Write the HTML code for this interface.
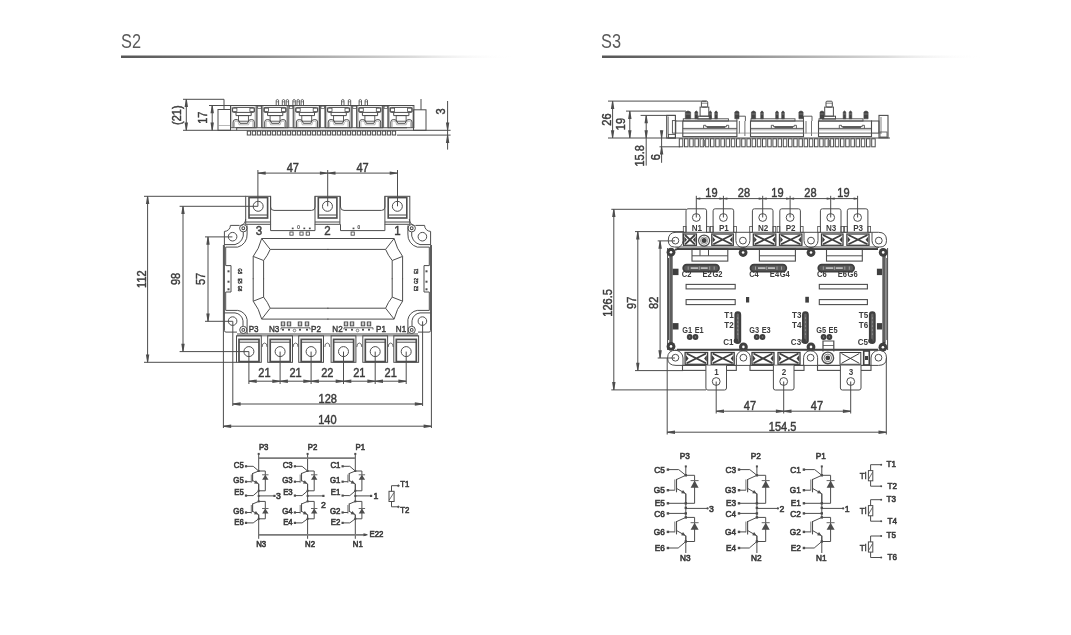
<!DOCTYPE html>
<html><head><meta charset="utf-8"><style>
html,body{margin:0;padding:0;background:#fff;}
body{width:1071px;height:635px;overflow:hidden;}
svg{display:block;font-family:"Liberation Sans",sans-serif;will-change:transform;}
</style></head><body>
<svg width="1071" height="635" viewBox="0 0 1071 635">
<defs><linearGradient id="g1" x1="0" x2="1" y1="0" y2="0"><stop offset="0" stop-color="#555"/><stop offset="0.35" stop-color="#8a8a8a"/><stop offset="0.75" stop-color="#dcdcdc"/><stop offset="1" stop-color="#fff" stop-opacity="0"/></linearGradient></defs>
<text x="121" y="47.6" font-size="19.5" text-anchor="start" fill="#5a5a5a" font-weight="normal" transform=" translate(121 47.6) scale(0.84 1) translate(-121 -47.6)">S2</text>
<rect x="121" y="55.5" width="392" height="2.5" fill="url(#g1)"/>
<text x="601" y="47.6" font-size="19.5" text-anchor="start" fill="#5a5a5a" font-weight="normal" transform=" translate(601 47.6) scale(0.84 1) translate(-601 -47.6)">S3</text>
<rect x="602" y="55.5" width="380" height="2.5" fill="url(#g1)"/>
<line x1="183" y1="99.3" x2="224" y2="99.3" stroke="#4d4d4d" stroke-width="1"/>
<line x1="224" y1="99.3" x2="224" y2="109.5" stroke="#4d4d4d" stroke-width="1"/>
<line x1="183" y1="130.3" x2="450.6" y2="130.3" stroke="#4d4d4d" stroke-width="1"/>
<line x1="186.3" y1="99.3" x2="186.3" y2="130.3" stroke="#4d4d4d" stroke-width="1"/>
<polygon points="185.85,99.3 184.6,107.1 188,107.1 186.75,99.3" fill="#4d4d4d"/>
<polygon points="185.85,130.3 184.6,122.5 188,122.5 186.75,130.3" fill="#4d4d4d"/>
<text x="181.3" y="115.2" font-size="12" text-anchor="middle" fill="#3c3c3c" font-weight="normal" transform="rotate(-90 181.3 115.2) translate(181.3 115.2) scale(0.92 1) translate(-181.3 -115.2)" stroke="#3c3c3c" stroke-width="0.45">(21)</text>
<line x1="209" y1="105.5" x2="231" y2="105.5" stroke="#4d4d4d" stroke-width="1"/>
<line x1="212.2" y1="105.5" x2="212.2" y2="130.3" stroke="#4d4d4d" stroke-width="1"/>
<polygon points="211.75,105.5 210.5,113.3 213.9,113.3 212.65,105.5" fill="#4d4d4d"/>
<polygon points="211.75,130.3 210.5,122.5 213.9,122.5 212.65,130.3" fill="#4d4d4d"/>
<text x="206.8" y="117.7" font-size="12" text-anchor="middle" fill="#3c3c3c" font-weight="normal" transform="rotate(-90 206.8 117.7) translate(206.8 117.7) scale(0.92 1) translate(-206.8 -117.7)" stroke="#3c3c3c" stroke-width="0.45">17</text>
<line x1="230.5" y1="105.5" x2="413.5" y2="105.5" stroke="#4d4d4d" stroke-width="1.2"/>
<rect x="218" y="109.5" width="12.5" height="20.8" stroke="#4d4d4d" stroke-width="1" fill="none"/>
<line x1="218" y1="125.5" x2="230.5" y2="125.5" stroke="#999" stroke-width="0.7"/>
<rect x="413.5" y="109.8" width="12.5" height="20.5" stroke="#4d4d4d" stroke-width="1" fill="none"/>
<line x1="421" y1="99" x2="421" y2="109.8" stroke="#4d4d4d" stroke-width="1"/>
<line x1="236.7" y1="127.7" x2="407" y2="127.7" stroke="#4d4d4d" stroke-width="1.1"/>
<line x1="236.7" y1="127.7" x2="236.7" y2="130.3" stroke="#4d4d4d" stroke-width="1"/>
<rect x="230.5" y="105.5" width="25.7" height="22.2" stroke="#4d4d4d" stroke-width="1" fill="none"/>
<line x1="231.7" y1="106.3" x2="231.7" y2="127.5" stroke="#888" stroke-width="0.6"/>
<line x1="255" y1="106.3" x2="255" y2="127.5" stroke="#888" stroke-width="0.6"/>
<rect x="232.4" y="107.4" width="22" height="5" stroke="#4d4d4d" stroke-width="1" fill="none" rx="1"/>
<rect x="232.7" y="108.2" width="4.2" height="3.3" stroke="#4d4d4d" stroke-width="0.8" fill="none"/>
<rect x="249.9" y="108.2" width="4.2" height="3.3" stroke="#4d4d4d" stroke-width="0.8" fill="none"/>
<path d="M236,112.4 V115.6 H251.2 V112.4" stroke="#4d4d4d" stroke-width="1" fill="none"/>
<rect x="238.5" y="115.6" width="9.9" height="5.6" stroke="#4d4d4d" stroke-width="0.9" fill="none"/>
<path d="M233.1,127.5 V122 Q233.1,119.5 236,119.5 Q239.2,119.5 239.5,122 L240,123.3 H247.5 L248,122 Q248.5,119.5 251.5,119.5 Q254.3,119.5 254.3,122 V127.5" stroke="#4d4d4d" stroke-width="1" fill="none"/>
<path d="M234.5,127.5 V122.5 Q234.5,121 236,121 Q238,121 238.3,122.5 L239,124.8 H248.5 L249.2,122.5 Q249.5,121 251.5,121 Q252.9,121 252.9,122.5 V127.5" stroke="#888" stroke-width="0.6" fill="none"/>
<rect x="262.1" y="105.5" width="25.7" height="22.2" stroke="#4d4d4d" stroke-width="1" fill="none"/>
<line x1="263.3" y1="106.3" x2="263.3" y2="127.5" stroke="#888" stroke-width="0.6"/>
<line x1="286.6" y1="106.3" x2="286.6" y2="127.5" stroke="#888" stroke-width="0.6"/>
<rect x="264" y="107.4" width="22" height="5" stroke="#4d4d4d" stroke-width="1" fill="none" rx="1"/>
<rect x="264.3" y="108.2" width="4.2" height="3.3" stroke="#4d4d4d" stroke-width="0.8" fill="none"/>
<rect x="281.5" y="108.2" width="4.2" height="3.3" stroke="#4d4d4d" stroke-width="0.8" fill="none"/>
<path d="M267.6,112.4 V115.6 H282.8 V112.4" stroke="#4d4d4d" stroke-width="1" fill="none"/>
<rect x="270.1" y="115.6" width="9.9" height="5.6" stroke="#4d4d4d" stroke-width="0.9" fill="none"/>
<path d="M264.7,127.5 V122 Q264.7,119.5 267.6,119.5 Q270.8,119.5 271.1,122 L271.6,123.3 H279.1 L279.6,122 Q280.1,119.5 283.1,119.5 Q285.9,119.5 285.9,122 V127.5" stroke="#4d4d4d" stroke-width="1" fill="none"/>
<path d="M266.1,127.5 V122.5 Q266.1,121 267.6,121 Q269.6,121 269.9,122.5 L270.6,124.8 H280.1 L280.8,122.5 Q281.1,121 283.1,121 Q284.5,121 284.5,122.5 V127.5" stroke="#888" stroke-width="0.6" fill="none"/>
<rect x="293.8" y="105.5" width="25.7" height="22.2" stroke="#4d4d4d" stroke-width="1" fill="none"/>
<line x1="295" y1="106.3" x2="295" y2="127.5" stroke="#888" stroke-width="0.6"/>
<line x1="318.3" y1="106.3" x2="318.3" y2="127.5" stroke="#888" stroke-width="0.6"/>
<rect x="295.7" y="107.4" width="22" height="5" stroke="#4d4d4d" stroke-width="1" fill="none" rx="1"/>
<rect x="296" y="108.2" width="4.2" height="3.3" stroke="#4d4d4d" stroke-width="0.8" fill="none"/>
<rect x="313.2" y="108.2" width="4.2" height="3.3" stroke="#4d4d4d" stroke-width="0.8" fill="none"/>
<path d="M299.3,112.4 V115.6 H314.5 V112.4" stroke="#4d4d4d" stroke-width="1" fill="none"/>
<rect x="301.8" y="115.6" width="9.9" height="5.6" stroke="#4d4d4d" stroke-width="0.9" fill="none"/>
<path d="M296.4,127.5 V122 Q296.4,119.5 299.3,119.5 Q302.5,119.5 302.8,122 L303.3,123.3 H310.8 L311.3,122 Q311.8,119.5 314.8,119.5 Q317.6,119.5 317.6,122 V127.5" stroke="#4d4d4d" stroke-width="1" fill="none"/>
<path d="M297.8,127.5 V122.5 Q297.8,121 299.3,121 Q301.3,121 301.6,122.5 L302.3,124.8 H311.8 L312.5,122.5 Q312.8,121 314.8,121 Q316.2,121 316.2,122.5 V127.5" stroke="#888" stroke-width="0.6" fill="none"/>
<rect x="325.6" y="105.5" width="25.7" height="22.2" stroke="#4d4d4d" stroke-width="1" fill="none"/>
<line x1="326.8" y1="106.3" x2="326.8" y2="127.5" stroke="#888" stroke-width="0.6"/>
<line x1="350.1" y1="106.3" x2="350.1" y2="127.5" stroke="#888" stroke-width="0.6"/>
<rect x="327.5" y="107.4" width="22" height="5" stroke="#4d4d4d" stroke-width="1" fill="none" rx="1"/>
<rect x="327.8" y="108.2" width="4.2" height="3.3" stroke="#4d4d4d" stroke-width="0.8" fill="none"/>
<rect x="345" y="108.2" width="4.2" height="3.3" stroke="#4d4d4d" stroke-width="0.8" fill="none"/>
<path d="M331.1,112.4 V115.6 H346.3 V112.4" stroke="#4d4d4d" stroke-width="1" fill="none"/>
<rect x="333.6" y="115.6" width="9.9" height="5.6" stroke="#4d4d4d" stroke-width="0.9" fill="none"/>
<path d="M328.2,127.5 V122 Q328.2,119.5 331.1,119.5 Q334.3,119.5 334.6,122 L335.1,123.3 H342.6 L343.1,122 Q343.6,119.5 346.6,119.5 Q349.4,119.5 349.4,122 V127.5" stroke="#4d4d4d" stroke-width="1" fill="none"/>
<path d="M329.6,127.5 V122.5 Q329.6,121 331.1,121 Q333.1,121 333.4,122.5 L334.1,124.8 H343.6 L344.3,122.5 Q344.6,121 346.6,121 Q348,121 348,122.5 V127.5" stroke="#888" stroke-width="0.6" fill="none"/>
<rect x="356.9" y="105.5" width="25.7" height="22.2" stroke="#4d4d4d" stroke-width="1" fill="none"/>
<line x1="358.1" y1="106.3" x2="358.1" y2="127.5" stroke="#888" stroke-width="0.6"/>
<line x1="381.4" y1="106.3" x2="381.4" y2="127.5" stroke="#888" stroke-width="0.6"/>
<rect x="358.8" y="107.4" width="22" height="5" stroke="#4d4d4d" stroke-width="1" fill="none" rx="1"/>
<rect x="359.1" y="108.2" width="4.2" height="3.3" stroke="#4d4d4d" stroke-width="0.8" fill="none"/>
<rect x="376.3" y="108.2" width="4.2" height="3.3" stroke="#4d4d4d" stroke-width="0.8" fill="none"/>
<path d="M362.4,112.4 V115.6 H377.6 V112.4" stroke="#4d4d4d" stroke-width="1" fill="none"/>
<rect x="364.9" y="115.6" width="9.9" height="5.6" stroke="#4d4d4d" stroke-width="0.9" fill="none"/>
<path d="M359.5,127.5 V122 Q359.5,119.5 362.4,119.5 Q365.6,119.5 365.9,122 L366.4,123.3 H373.9 L374.4,122 Q374.9,119.5 377.9,119.5 Q380.7,119.5 380.7,122 V127.5" stroke="#4d4d4d" stroke-width="1" fill="none"/>
<path d="M360.9,127.5 V122.5 Q360.9,121 362.4,121 Q364.4,121 364.7,122.5 L365.4,124.8 H374.9 L375.6,122.5 Q375.9,121 377.9,121 Q379.3,121 379.3,122.5 V127.5" stroke="#888" stroke-width="0.6" fill="none"/>
<rect x="388.2" y="105.5" width="25.7" height="22.2" stroke="#4d4d4d" stroke-width="1" fill="none"/>
<line x1="389.4" y1="106.3" x2="389.4" y2="127.5" stroke="#888" stroke-width="0.6"/>
<line x1="412.7" y1="106.3" x2="412.7" y2="127.5" stroke="#888" stroke-width="0.6"/>
<rect x="390.1" y="107.4" width="22" height="5" stroke="#4d4d4d" stroke-width="1" fill="none" rx="1"/>
<rect x="390.4" y="108.2" width="4.2" height="3.3" stroke="#4d4d4d" stroke-width="0.8" fill="none"/>
<rect x="407.6" y="108.2" width="4.2" height="3.3" stroke="#4d4d4d" stroke-width="0.8" fill="none"/>
<path d="M393.7,112.4 V115.6 H408.9 V112.4" stroke="#4d4d4d" stroke-width="1" fill="none"/>
<rect x="396.2" y="115.6" width="9.9" height="5.6" stroke="#4d4d4d" stroke-width="0.9" fill="none"/>
<path d="M390.8,127.5 V122 Q390.8,119.5 393.7,119.5 Q396.9,119.5 397.2,122 L397.7,123.3 H405.2 L405.7,122 Q406.2,119.5 409.2,119.5 Q412,119.5 412,122 V127.5" stroke="#4d4d4d" stroke-width="1" fill="none"/>
<path d="M392.2,127.5 V122.5 Q392.2,121 393.7,121 Q395.7,121 396,122.5 L396.7,124.8 H406.2 L406.9,122.5 Q407.2,121 409.2,121 Q410.6,121 410.6,122.5 V127.5" stroke="#888" stroke-width="0.6" fill="none"/>
<line x1="257.2" y1="105.5" x2="257.2" y2="127.7" stroke="#4d4d4d" stroke-width="0.8"/>
<line x1="261.5" y1="105.5" x2="261.5" y2="127.7" stroke="#4d4d4d" stroke-width="0.8"/>
<rect x="257.7" y="106.2" width="3.5" height="2.2" stroke="#4d4d4d" stroke-width="0.7" fill="none"/>
<line x1="288.8" y1="105.5" x2="288.8" y2="127.7" stroke="#4d4d4d" stroke-width="0.8"/>
<line x1="293.1" y1="105.5" x2="293.1" y2="127.7" stroke="#4d4d4d" stroke-width="0.8"/>
<rect x="289.3" y="106.2" width="3.5" height="2.2" stroke="#4d4d4d" stroke-width="0.7" fill="none"/>
<line x1="320.5" y1="105.5" x2="320.5" y2="127.7" stroke="#4d4d4d" stroke-width="0.8"/>
<line x1="324.8" y1="105.5" x2="324.8" y2="127.7" stroke="#4d4d4d" stroke-width="0.8"/>
<rect x="321" y="106.2" width="3.5" height="2.2" stroke="#4d4d4d" stroke-width="0.7" fill="none"/>
<line x1="352.3" y1="105.5" x2="352.3" y2="127.7" stroke="#4d4d4d" stroke-width="0.8"/>
<line x1="356.6" y1="105.5" x2="356.6" y2="127.7" stroke="#4d4d4d" stroke-width="0.8"/>
<rect x="352.8" y="106.2" width="3.5" height="2.2" stroke="#4d4d4d" stroke-width="0.7" fill="none"/>
<line x1="383.6" y1="105.5" x2="383.6" y2="127.7" stroke="#4d4d4d" stroke-width="0.8"/>
<line x1="387.9" y1="105.5" x2="387.9" y2="127.7" stroke="#4d4d4d" stroke-width="0.8"/>
<rect x="384.1" y="106.2" width="3.5" height="2.2" stroke="#4d4d4d" stroke-width="0.7" fill="none"/>
<path d="M276.2,105.5 V100.2 Q277.4,98.8 278.6,100.2 V105.5" stroke="#4d4d4d" stroke-width="0.9" fill="none"/>
<line x1="276.2" y1="101.8" x2="278.6" y2="101.8" stroke="#4d4d4d" stroke-width="0.6"/>
<path d="M282.3,105.5 V100.2 Q283.5,98.8 284.7,100.2 V105.5" stroke="#4d4d4d" stroke-width="0.9" fill="none"/>
<line x1="282.3" y1="101.8" x2="284.7" y2="101.8" stroke="#4d4d4d" stroke-width="0.6"/>
<path d="M286.2,105.5 V100.2 Q287.4,98.8 288.6,100.2 V105.5" stroke="#4d4d4d" stroke-width="0.9" fill="none"/>
<line x1="286.2" y1="101.8" x2="288.6" y2="101.8" stroke="#4d4d4d" stroke-width="0.6"/>
<path d="M292.9,105.5 V100.2 Q294.1,98.8 295.3,100.2 V105.5" stroke="#4d4d4d" stroke-width="0.9" fill="none"/>
<line x1="292.9" y1="101.8" x2="295.3" y2="101.8" stroke="#4d4d4d" stroke-width="0.6"/>
<path d="M297,105.5 V100.2 Q298.2,98.8 299.4,100.2 V105.5" stroke="#4d4d4d" stroke-width="0.9" fill="none"/>
<line x1="297" y1="101.8" x2="299.4" y2="101.8" stroke="#4d4d4d" stroke-width="0.6"/>
<path d="M301.1,105.5 V100.2 Q302.3,98.8 303.5,100.2 V105.5" stroke="#4d4d4d" stroke-width="0.9" fill="none"/>
<line x1="301.1" y1="101.8" x2="303.5" y2="101.8" stroke="#4d4d4d" stroke-width="0.6"/>
<path d="M341.6,105.5 V100.2 Q342.8,98.8 344,100.2 V105.5" stroke="#4d4d4d" stroke-width="0.9" fill="none"/>
<line x1="341.6" y1="101.8" x2="344" y2="101.8" stroke="#4d4d4d" stroke-width="0.6"/>
<path d="M348.3,105.5 V100.2 Q349.5,98.8 350.7,100.2 V105.5" stroke="#4d4d4d" stroke-width="0.9" fill="none"/>
<line x1="348.3" y1="101.8" x2="350.7" y2="101.8" stroke="#4d4d4d" stroke-width="0.6"/>
<path d="M359.1,105.5 V100.2 Q360.3,98.8 361.5,100.2 V105.5" stroke="#4d4d4d" stroke-width="0.9" fill="none"/>
<line x1="359.1" y1="101.8" x2="361.5" y2="101.8" stroke="#4d4d4d" stroke-width="0.6"/>
<path d="M365.1,105.5 V100.2 Q366.3,98.8 367.5,100.2 V105.5" stroke="#4d4d4d" stroke-width="0.9" fill="none"/>
<line x1="365.1" y1="101.8" x2="367.5" y2="101.8" stroke="#4d4d4d" stroke-width="0.6"/>
<rect x="247.3" y="131.1" width="3.3" height="3.9" stroke="#4d4d4d" stroke-width="1" fill="none"/>
<rect x="252.3" y="131.1" width="3.3" height="3.9" stroke="#4d4d4d" stroke-width="1" fill="none"/>
<rect x="257.3" y="131.1" width="3.3" height="3.9" stroke="#4d4d4d" stroke-width="1" fill="none"/>
<rect x="262.3" y="131.1" width="3.3" height="3.9" stroke="#4d4d4d" stroke-width="1" fill="none"/>
<rect x="267.3" y="131.1" width="3.3" height="3.9" stroke="#4d4d4d" stroke-width="1" fill="none"/>
<rect x="272.3" y="131.1" width="3.3" height="3.9" stroke="#4d4d4d" stroke-width="1" fill="none"/>
<rect x="277.3" y="131.1" width="3.3" height="3.9" stroke="#4d4d4d" stroke-width="1" fill="none"/>
<rect x="282.3" y="131.1" width="3.3" height="3.9" stroke="#4d4d4d" stroke-width="1" fill="none"/>
<rect x="287.3" y="131.1" width="3.3" height="3.9" stroke="#4d4d4d" stroke-width="1" fill="none"/>
<rect x="292.3" y="131.1" width="3.3" height="3.9" stroke="#4d4d4d" stroke-width="1" fill="none"/>
<rect x="297.3" y="131.1" width="3.3" height="3.9" stroke="#4d4d4d" stroke-width="1" fill="none"/>
<rect x="302.3" y="131.1" width="3.3" height="3.9" stroke="#4d4d4d" stroke-width="1" fill="none"/>
<rect x="307.3" y="131.1" width="3.3" height="3.9" stroke="#4d4d4d" stroke-width="1" fill="none"/>
<rect x="312.3" y="131.1" width="3.3" height="3.9" stroke="#4d4d4d" stroke-width="1" fill="none"/>
<rect x="317.3" y="131.1" width="3.3" height="3.9" stroke="#4d4d4d" stroke-width="1" fill="none"/>
<rect x="322.3" y="131.1" width="3.3" height="3.9" stroke="#4d4d4d" stroke-width="1" fill="none"/>
<rect x="327.3" y="131.1" width="3.3" height="3.9" stroke="#4d4d4d" stroke-width="1" fill="none"/>
<rect x="332.3" y="131.1" width="3.3" height="3.9" stroke="#4d4d4d" stroke-width="1" fill="none"/>
<rect x="337.3" y="131.1" width="3.3" height="3.9" stroke="#4d4d4d" stroke-width="1" fill="none"/>
<rect x="342.3" y="131.1" width="3.3" height="3.9" stroke="#4d4d4d" stroke-width="1" fill="none"/>
<rect x="347.3" y="131.1" width="3.3" height="3.9" stroke="#4d4d4d" stroke-width="1" fill="none"/>
<rect x="352.3" y="131.1" width="3.3" height="3.9" stroke="#4d4d4d" stroke-width="1" fill="none"/>
<rect x="357.3" y="131.1" width="3.3" height="3.9" stroke="#4d4d4d" stroke-width="1" fill="none"/>
<rect x="362.3" y="131.1" width="3.3" height="3.9" stroke="#4d4d4d" stroke-width="1" fill="none"/>
<rect x="367.3" y="131.1" width="3.3" height="3.9" stroke="#4d4d4d" stroke-width="1" fill="none"/>
<rect x="372.3" y="131.1" width="3.3" height="3.9" stroke="#4d4d4d" stroke-width="1" fill="none"/>
<rect x="377.3" y="131.1" width="3.3" height="3.9" stroke="#4d4d4d" stroke-width="1" fill="none"/>
<rect x="382.3" y="131.1" width="3.3" height="3.9" stroke="#4d4d4d" stroke-width="1" fill="none"/>
<rect x="387.3" y="131.1" width="3.3" height="3.9" stroke="#4d4d4d" stroke-width="1" fill="none"/>
<rect x="392.3" y="131.1" width="3.3" height="3.9" stroke="#4d4d4d" stroke-width="1" fill="none"/>
<line x1="397" y1="135.1" x2="450.6" y2="135.1" stroke="#4d4d4d" stroke-width="1"/>
<line x1="447.6" y1="101" x2="447.6" y2="149.6" stroke="#4d4d4d" stroke-width="1"/>
<polygon points="447.15,130.3 445.9,122.5 449.3,122.5 448.05,130.3" fill="#4d4d4d"/>
<polygon points="447.15,135.1 445.9,142.9 449.3,142.9 448.05,135.1" fill="#4d4d4d"/>
<text x="445.5" y="111.5" font-size="12" text-anchor="middle" fill="#3c3c3c" font-weight="normal" transform="rotate(-90 445.5 111.5) translate(445.5 111.5) scale(0.92 1) translate(-445.5 -111.5)" stroke="#3c3c3c" stroke-width="0.45">3</text>
<line x1="144" y1="196.3" x2="245.7" y2="196.3" stroke="#4d4d4d" stroke-width="1"/>
<line x1="144" y1="362.3" x2="236.6" y2="362.3" stroke="#4d4d4d" stroke-width="1"/>
<line x1="147.6" y1="196.3" x2="147.6" y2="362.3" stroke="#4d4d4d" stroke-width="1"/>
<polygon points="147.15,196.3 145.9,204.1 149.3,204.1 148.05,196.3" fill="#4d4d4d"/>
<polygon points="147.15,362.3 145.9,354.5 149.3,354.5 148.05,362.3" fill="#4d4d4d"/>
<text x="146.3" y="279.1" font-size="12" text-anchor="middle" fill="#3c3c3c" font-weight="normal" transform="rotate(-90 146.3 279.1) translate(146.3 279.1) scale(0.92 1) translate(-146.3 -279.1)" stroke="#3c3c3c" stroke-width="0.45">112</text>
<line x1="179.6" y1="206.3" x2="257.9" y2="206.3" stroke="#4d4d4d" stroke-width="1"/>
<line x1="179.6" y1="351.6" x2="248.9" y2="351.6" stroke="#4d4d4d" stroke-width="1"/>
<line x1="183" y1="206.3" x2="183" y2="351.6" stroke="#4d4d4d" stroke-width="1"/>
<polygon points="182.55,206.3 181.3,214.1 184.7,214.1 183.45,206.3" fill="#4d4d4d"/>
<polygon points="182.55,351.6 181.3,343.8 184.7,343.8 183.45,351.6" fill="#4d4d4d"/>
<text x="180.3" y="278.9" font-size="12" text-anchor="middle" fill="#3c3c3c" font-weight="normal" transform="rotate(-90 180.3 278.9) translate(180.3 278.9) scale(0.92 1) translate(-180.3 -278.9)" stroke="#3c3c3c" stroke-width="0.45">98</text>
<line x1="205" y1="236.9" x2="232.4" y2="236.9" stroke="#4d4d4d" stroke-width="1"/>
<line x1="205" y1="321.3" x2="232.8" y2="321.3" stroke="#4d4d4d" stroke-width="1"/>
<line x1="208" y1="236.9" x2="208" y2="321.3" stroke="#4d4d4d" stroke-width="1"/>
<polygon points="207.55,236.9 206.3,244.7 209.7,244.7 208.45,236.9" fill="#4d4d4d"/>
<polygon points="207.55,321.3 206.3,313.5 209.7,313.5 208.45,321.3" fill="#4d4d4d"/>
<text x="204.6" y="278.9" font-size="12" text-anchor="middle" fill="#3c3c3c" font-weight="normal" transform="rotate(-90 204.6 278.9) translate(204.6 278.9) scale(0.92 1) translate(-204.6 -278.9)" stroke="#3c3c3c" stroke-width="0.45">57</text>
<line x1="257.9" y1="170" x2="257.9" y2="206.3" stroke="#4d4d4d" stroke-width="1"/>
<line x1="327.7" y1="170" x2="327.7" y2="206.3" stroke="#4d4d4d" stroke-width="1"/>
<line x1="397.5" y1="170" x2="397.5" y2="206.3" stroke="#4d4d4d" stroke-width="1"/>
<line x1="257.9" y1="173.1" x2="327.7" y2="173.1" stroke="#4d4d4d" stroke-width="1"/>
<polygon points="257.9,172.65 265.7,171.4 265.7,174.8 257.9,173.55" fill="#4d4d4d"/>
<polygon points="327.7,172.65 319.9,171.4 319.9,174.8 327.7,173.55" fill="#4d4d4d"/>
<text x="292.8" y="171.6" font-size="12" text-anchor="middle" fill="#3c3c3c" font-weight="normal" transform=" translate(292.8 171.6) scale(0.92 1) translate(-292.8 -171.6)" stroke="#3c3c3c" stroke-width="0.45">47</text>
<line x1="327.7" y1="173.1" x2="397.5" y2="173.1" stroke="#4d4d4d" stroke-width="1"/>
<polygon points="327.7,172.65 335.5,171.4 335.5,174.8 327.7,173.55" fill="#4d4d4d"/>
<polygon points="397.5,172.65 389.7,171.4 389.7,174.8 397.5,173.55" fill="#4d4d4d"/>
<text x="362.6" y="171.6" font-size="12" text-anchor="middle" fill="#3c3c3c" font-weight="normal" transform=" translate(362.6 171.6) scale(0.92 1) translate(-362.6 -171.6)" stroke="#3c3c3c" stroke-width="0.45">47</text>
<rect x="245.7" y="196.3" width="24.9" height="28" stroke="#4d4d4d" stroke-width="1" fill="none"/>
<rect x="249" y="197.6" width="18.6" height="20.4" stroke="#4d4d4d" stroke-width="1.6" fill="none"/>
<line x1="249" y1="215" x2="267.6" y2="215" stroke="#4d4d4d" stroke-width="1"/>
<line x1="245.7" y1="222" x2="270.6" y2="222" stroke="#4d4d4d" stroke-width="1"/>
<circle cx="258.15" cy="206.3" r="5" stroke="#4d4d4d" stroke-width="1" fill="none"/>
<rect x="315" y="196.3" width="24.9" height="28" stroke="#4d4d4d" stroke-width="1" fill="none"/>
<rect x="318.3" y="197.6" width="18.6" height="20.4" stroke="#4d4d4d" stroke-width="1.6" fill="none"/>
<line x1="318.3" y1="215" x2="336.9" y2="215" stroke="#4d4d4d" stroke-width="1"/>
<line x1="315" y1="222" x2="339.9" y2="222" stroke="#4d4d4d" stroke-width="1"/>
<circle cx="327.45" cy="206.3" r="5" stroke="#4d4d4d" stroke-width="1" fill="none"/>
<rect x="384.9" y="196.3" width="24.9" height="28" stroke="#4d4d4d" stroke-width="1" fill="none"/>
<rect x="388.2" y="197.6" width="18.6" height="20.4" stroke="#4d4d4d" stroke-width="1.6" fill="none"/>
<line x1="388.2" y1="215" x2="406.8" y2="215" stroke="#4d4d4d" stroke-width="1"/>
<line x1="384.9" y1="222" x2="409.8" y2="222" stroke="#4d4d4d" stroke-width="1"/>
<circle cx="397.35" cy="206.3" r="5" stroke="#4d4d4d" stroke-width="1" fill="none"/>
<path d="M270.6,196.3 V207 Q270.6,210.4 274,210.4 H311.6 Q315,210.4 315,207 V196.3" stroke="#4d4d4d" stroke-width="1" fill="none"/>
<path d="M340.5,196.3 V207 Q340.5,210.4 344,210.4 H381.5 Q384.9,210.4 384.9,207 V196.3" stroke="#4d4d4d" stroke-width="1" fill="none"/>
<path d="M270.6,224.3 V230.6 H315 V224.3" stroke="#4d4d4d" stroke-width="1" fill="none"/>
<path d="M340.5,224.3 V230.6 H384.9 V224.3" stroke="#4d4d4d" stroke-width="1" fill="none"/>
<path d="M239.6,225.4 H230.4 A6,6 0 0 1 224.4,231.4 V245.2" stroke="#4d4d4d" stroke-width="1" fill="none"/>
<path d="M243.3,232 A11,11 0 0 1 235,244.6 H224.4" stroke="#4d4d4d" stroke-width="1" fill="none"/>
<path d="M247.1,225.4 V234 A12.5,12.5 0 0 1 237.7,247.1 H225.7 V265.6 H231 V292 H225.7 V310.4 H237.7 A11,11 0 0 1 247.1,319.5 V334" stroke="#4d4d4d" stroke-width="1" fill="none"/>
<path d="M224.4,312.9 H235 A9,9 0 0 1 243,320.8 V326.3" stroke="#4d4d4d" stroke-width="1" fill="none"/>
<path d="M224.4,245.2 V330.5 Q224.4,332.1 226,332.1 H237" stroke="#4d4d4d" stroke-width="1" fill="none"/>
<path d="M245.7,219 Q245.5,223.5 241.2,225.8" stroke="#4d4d4d" stroke-width="1" fill="none"/>
<circle cx="232.6" cy="236.7" r="4.3" stroke="#4d4d4d" stroke-width="1" fill="none"/>
<circle cx="232.6" cy="321.1" r="4.3" stroke="#4d4d4d" stroke-width="1" fill="none"/>
<circle cx="243.3" cy="228.2" r="3.7" stroke="#4d4d4d" stroke-width="1" fill="none"/>
<circle cx="243.3" cy="228.2" r="1.4" stroke="#4d4d4d" stroke-width="1.1" fill="none"/>
<circle cx="243.3" cy="329.9" r="3.6" stroke="#4d4d4d" stroke-width="1" fill="none"/>
<circle cx="243.3" cy="329.9" r="1.4" stroke="#4d4d4d" stroke-width="1.1" fill="none"/>
<g transform="translate(655,0) scale(-1,1)">
<path d="M239.6,225.4 H230.4 A6,6 0 0 1 224.4,231.4 V245.2" stroke="#4d4d4d" stroke-width="1" fill="none"/>
<path d="M243.3,232 A11,11 0 0 1 235,244.6 H224.4" stroke="#4d4d4d" stroke-width="1" fill="none"/>
<path d="M247.1,225.4 V234 A12.5,12.5 0 0 1 237.7,247.1 H225.7 V265.6 H231 V292 H225.7 V310.4 H237.7 A11,11 0 0 1 247.1,319.5 V334" stroke="#4d4d4d" stroke-width="1" fill="none"/>
<path d="M224.4,312.9 H235 A9,9 0 0 1 243,320.8 V326.3" stroke="#4d4d4d" stroke-width="1" fill="none"/>
<path d="M224.4,245.2 V330.5 Q224.4,332.1 226,332.1 H237" stroke="#4d4d4d" stroke-width="1" fill="none"/>
<path d="M245.7,219 Q245.5,223.5 241.2,225.8" stroke="#4d4d4d" stroke-width="1" fill="none"/>
<circle cx="232.6" cy="236.7" r="4.3" stroke="#4d4d4d" stroke-width="1" fill="none"/>
<circle cx="232.6" cy="321.1" r="4.3" stroke="#4d4d4d" stroke-width="1" fill="none"/>
<circle cx="243.3" cy="228.2" r="3.7" stroke="#4d4d4d" stroke-width="1" fill="none"/>
<circle cx="243.3" cy="228.2" r="1.4" stroke="#4d4d4d" stroke-width="1.1" fill="none"/>
<circle cx="243.3" cy="329.9" r="3.6" stroke="#4d4d4d" stroke-width="1" fill="none"/>
<circle cx="243.3" cy="329.9" r="1.4" stroke="#4d4d4d" stroke-width="1.1" fill="none"/>
</g>
<line x1="237" y1="334" x2="418" y2="334" stroke="#4d4d4d" stroke-width="1"/>
<line x1="237" y1="335.8" x2="418" y2="335.8" stroke="#4d4d4d" stroke-width="0.8"/>
<rect x="227.5" y="270.3" width="2" height="2" fill="#4d4d4d"/>
<rect x="425.5" y="270.3" width="2" height="2" fill="#4d4d4d"/>
<rect x="227.5" y="280.7" width="2" height="2" fill="#4d4d4d"/>
<rect x="425.5" y="280.7" width="2" height="2" fill="#4d4d4d"/>
<rect x="227.5" y="288.3" width="2" height="2" fill="#4d4d4d"/>
<rect x="425.5" y="288.3" width="2" height="2" fill="#4d4d4d"/>
<text x="237.5" y="271.3" font-size="4.5" text-anchor="middle" fill="#3c3c3c" font-weight="normal" transform="rotate(90 237.5 271.3) translate(237.5 271.3) scale(0.92 1) translate(-237.5 -271.3)" stroke="#3c3c3c" stroke-width="0.45">G5</text>
<text x="237.5" y="281" font-size="4.5" text-anchor="middle" fill="#3c3c3c" font-weight="normal" transform="rotate(90 237.5 281) translate(237.5 281) scale(0.92 1) translate(-237.5 -281)" stroke="#3c3c3c" stroke-width="0.45">E5</text>
<text x="237.5" y="288.5" font-size="4.5" text-anchor="middle" fill="#3c3c3c" font-weight="normal" transform="rotate(90 237.5 288.5) translate(237.5 288.5) scale(0.92 1) translate(-237.5 -288.5)" stroke="#3c3c3c" stroke-width="0.45">G6</text>
<text x="418" y="271.3" font-size="4.5" text-anchor="middle" fill="#3c3c3c" font-weight="normal" transform="rotate(-90 418 271.3) translate(418 271.3) scale(0.92 1) translate(-418 -271.3)" stroke="#3c3c3c" stroke-width="0.45">E1</text>
<text x="418" y="281" font-size="4.5" text-anchor="middle" fill="#3c3c3c" font-weight="normal" transform="rotate(-90 418 281) translate(418 281) scale(0.92 1) translate(-418 -281)" stroke="#3c3c3c" stroke-width="0.45">G2</text>
<text x="418" y="288.5" font-size="4.5" text-anchor="middle" fill="#3c3c3c" font-weight="normal" transform="rotate(-90 418 288.5) translate(418 288.5) scale(0.92 1) translate(-418 -288.5)" stroke="#3c3c3c" stroke-width="0.45">E2</text>
<g transform="">
<path d="M328.5,238.5 H261.7 Q259,249 253.2,256.4 V279.2" stroke="#4d4d4d" stroke-width="1" fill="none"/>
<path d="M328.5,249.4 H270.2 Q267.6,255.6 263.6,260.5 V279.2" stroke="#4d4d4d" stroke-width="1" fill="none"/>
<path d="M261.7,238.5 L270.2,249.4 M253.2,256.4 L263.6,260.5" stroke="#4d4d4d" stroke-width="1" fill="none"/>
</g>
<g transform="translate(655.8,0) scale(-1,1)">
<path d="M328.5,238.5 H261.7 Q259,249 253.2,256.4 V279.2" stroke="#4d4d4d" stroke-width="1" fill="none"/>
<path d="M328.5,249.4 H270.2 Q267.6,255.6 263.6,260.5 V279.2" stroke="#4d4d4d" stroke-width="1" fill="none"/>
<path d="M261.7,238.5 L270.2,249.4 M253.2,256.4 L263.6,260.5" stroke="#4d4d4d" stroke-width="1" fill="none"/>
</g>
<g transform="translate(0,557.6) scale(1,-1)">
<path d="M328.5,238.5 H261.7 Q259,249 253.2,256.4 V279.2" stroke="#4d4d4d" stroke-width="1" fill="none"/>
<path d="M328.5,249.4 H270.2 Q267.6,255.6 263.6,260.5 V279.2" stroke="#4d4d4d" stroke-width="1" fill="none"/>
<path d="M261.7,238.5 L270.2,249.4 M253.2,256.4 L263.6,260.5" stroke="#4d4d4d" stroke-width="1" fill="none"/>
</g>
<g transform="translate(655.8,557.6) scale(-1,-1)">
<path d="M328.5,238.5 H261.7 Q259,249 253.2,256.4 V279.2" stroke="#4d4d4d" stroke-width="1" fill="none"/>
<path d="M328.5,249.4 H270.2 Q267.6,255.6 263.6,260.5 V279.2" stroke="#4d4d4d" stroke-width="1" fill="none"/>
<path d="M261.7,238.5 L270.2,249.4 M253.2,256.4 L263.6,260.5" stroke="#4d4d4d" stroke-width="1" fill="none"/>
</g>
<text x="259" y="235.5" font-size="12.5" text-anchor="middle" fill="#3c3c3c" font-weight="normal" transform=" translate(259 235.5) scale(0.92 1) translate(-259 -235.5)" stroke="#3c3c3c" stroke-width="0.45">3</text>
<text x="327.5" y="235.5" font-size="12.5" text-anchor="middle" fill="#3c3c3c" font-weight="normal" transform=" translate(327.5 235.5) scale(0.92 1) translate(-327.5 -235.5)" stroke="#3c3c3c" stroke-width="0.45">2</text>
<text x="397.5" y="235.5" font-size="12.5" text-anchor="middle" fill="#3c3c3c" font-weight="normal" transform=" translate(397.5 235.5) scale(0.92 1) translate(-397.5 -235.5)" stroke="#3c3c3c" stroke-width="0.45">1</text>
<rect x="291.8" y="227.6" width="1.8" height="1.6" fill="#4d4d4d"/>
<rect x="303.4" y="227.6" width="1.8" height="1.6" fill="#4d4d4d"/>
<rect x="308.9" y="227.6" width="1.8" height="1.6" fill="#4d4d4d"/>
<rect x="352.6" y="227.6" width="1.8" height="1.6" fill="#4d4d4d"/>
<text x="298.6" y="229.3" font-size="5" text-anchor="middle" fill="#3c3c3c" font-weight="normal" transform=" translate(298.6 229.3) scale(0.92 1) translate(-298.6 -229.3)" stroke="#3c3c3c" stroke-width="0.2">0</text>
<text x="358.8" y="229.3" font-size="5" text-anchor="middle" fill="#3c3c3c" font-weight="normal" transform=" translate(358.8 229.3) scale(0.92 1) translate(-358.8 -229.3)" stroke="#3c3c3c" stroke-width="0.2">0</text>
<rect x="289.9" y="232" width="3.2" height="3.2" stroke="#4d4d4d" stroke-width="0.9" fill="none"/>
<rect x="299.9" y="232" width="3.2" height="3.2" stroke="#4d4d4d" stroke-width="0.9" fill="none"/>
<rect x="306.2" y="232" width="3.2" height="3.2" stroke="#4d4d4d" stroke-width="0.9" fill="none"/>
<rect x="351.1" y="232" width="3.2" height="3.2" stroke="#4d4d4d" stroke-width="0.9" fill="none"/>
<rect x="236.5" y="335.8" width="24.8" height="26.5" stroke="#4d4d4d" stroke-width="1" fill="none"/>
<rect x="239" y="339.4" width="20" height="22.2" stroke="#4d4d4d" stroke-width="1.7" fill="none"/>
<line x1="239" y1="342.2" x2="259" y2="342.2" stroke="#4d4d4d" stroke-width="1"/>
<circle cx="248.9" cy="351.6" r="5" stroke="#4d4d4d" stroke-width="1" fill="none"/>
<rect x="267.7" y="335.8" width="24.8" height="26.5" stroke="#4d4d4d" stroke-width="1" fill="none"/>
<rect x="270.2" y="339.4" width="20" height="22.2" stroke="#4d4d4d" stroke-width="1.7" fill="none"/>
<line x1="270.2" y1="342.2" x2="290.2" y2="342.2" stroke="#4d4d4d" stroke-width="1"/>
<circle cx="280.1" cy="351.6" r="5" stroke="#4d4d4d" stroke-width="1" fill="none"/>
<rect x="298.7" y="335.8" width="24.8" height="26.5" stroke="#4d4d4d" stroke-width="1" fill="none"/>
<rect x="301.2" y="339.4" width="20" height="22.2" stroke="#4d4d4d" stroke-width="1.7" fill="none"/>
<line x1="301.2" y1="342.2" x2="321.2" y2="342.2" stroke="#4d4d4d" stroke-width="1"/>
<circle cx="311.1" cy="351.6" r="5" stroke="#4d4d4d" stroke-width="1" fill="none"/>
<rect x="331.1" y="335.8" width="24.8" height="26.5" stroke="#4d4d4d" stroke-width="1" fill="none"/>
<rect x="333.6" y="339.4" width="20" height="22.2" stroke="#4d4d4d" stroke-width="1.7" fill="none"/>
<line x1="333.6" y1="342.2" x2="353.6" y2="342.2" stroke="#4d4d4d" stroke-width="1"/>
<circle cx="343.5" cy="351.6" r="5" stroke="#4d4d4d" stroke-width="1" fill="none"/>
<rect x="362.8" y="335.8" width="24.8" height="26.5" stroke="#4d4d4d" stroke-width="1" fill="none"/>
<rect x="365.3" y="339.4" width="20" height="22.2" stroke="#4d4d4d" stroke-width="1.7" fill="none"/>
<line x1="365.3" y1="342.2" x2="385.3" y2="342.2" stroke="#4d4d4d" stroke-width="1"/>
<circle cx="375.2" cy="351.6" r="5" stroke="#4d4d4d" stroke-width="1" fill="none"/>
<rect x="393.8" y="335.8" width="24.8" height="26.5" stroke="#4d4d4d" stroke-width="1" fill="none"/>
<rect x="396.3" y="339.4" width="20" height="22.2" stroke="#4d4d4d" stroke-width="1.7" fill="none"/>
<line x1="396.3" y1="342.2" x2="416.3" y2="342.2" stroke="#4d4d4d" stroke-width="1"/>
<circle cx="406.2" cy="351.6" r="5" stroke="#4d4d4d" stroke-width="1" fill="none"/>
<path d="M262.1,347 Q262.1,343 264.6,343 Q267.1,343 267.1,347" stroke="#4d4d4d" stroke-width="0.8" fill="none"/>
<path d="M293.1,347 Q293.1,343 295.6,343 Q298.1,343 298.1,347" stroke="#4d4d4d" stroke-width="0.8" fill="none"/>
<path d="M324.8,347 Q324.8,343 327.3,343 Q329.8,343 329.8,347" stroke="#4d4d4d" stroke-width="0.8" fill="none"/>
<path d="M356.8,347 Q356.8,343 359.3,343 Q361.8,343 361.8,347" stroke="#4d4d4d" stroke-width="0.8" fill="none"/>
<path d="M388.2,347 Q388.2,343 390.7,343 Q393.2,343 393.2,347" stroke="#4d4d4d" stroke-width="0.8" fill="none"/>
<text x="253.6" y="332" font-size="8.8" text-anchor="middle" fill="#3c3c3c" font-weight="normal" transform=" translate(253.6 332) scale(0.92 1) translate(-253.6 -332)" stroke="#3c3c3c" stroke-width="0.45">P3</text>
<text x="274.1" y="332" font-size="8.8" text-anchor="middle" fill="#3c3c3c" font-weight="normal" transform=" translate(274.1 332) scale(0.92 1) translate(-274.1 -332)" stroke="#3c3c3c" stroke-width="0.45">N3</text>
<text x="316" y="332" font-size="8.8" text-anchor="middle" fill="#3c3c3c" font-weight="normal" transform=" translate(316 332) scale(0.92 1) translate(-316 -332)" stroke="#3c3c3c" stroke-width="0.45">P2</text>
<text x="337.5" y="332" font-size="8.8" text-anchor="middle" fill="#3c3c3c" font-weight="normal" transform=" translate(337.5 332) scale(0.92 1) translate(-337.5 -332)" stroke="#3c3c3c" stroke-width="0.45">N2</text>
<text x="381" y="332" font-size="8.8" text-anchor="middle" fill="#3c3c3c" font-weight="normal" transform=" translate(381 332) scale(0.92 1) translate(-381 -332)" stroke="#3c3c3c" stroke-width="0.45">P1</text>
<text x="401" y="332" font-size="8.8" text-anchor="middle" fill="#3c3c3c" font-weight="normal" transform=" translate(401 332) scale(0.92 1) translate(-401 -332)" stroke="#3c3c3c" stroke-width="0.45">N1</text>
<rect x="282" y="328.8" width="2" height="1.8" fill="#4d4d4d"/>
<rect x="281.3" y="322" width="3.4" height="3.8" stroke="#4d4d4d" stroke-width="1" fill="none"/>
<line x1="281.3" y1="324" x2="284.7" y2="324" stroke="#4d4d4d" stroke-width="0.6"/>
<rect x="288" y="328.8" width="2" height="1.8" fill="#4d4d4d"/>
<rect x="287.3" y="322" width="3.4" height="3.8" stroke="#4d4d4d" stroke-width="1" fill="none"/>
<line x1="287.3" y1="324" x2="290.7" y2="324" stroke="#4d4d4d" stroke-width="0.6"/>
<rect x="299" y="328.8" width="2" height="1.8" fill="#4d4d4d"/>
<rect x="298.3" y="322" width="3.4" height="3.8" stroke="#4d4d4d" stroke-width="1" fill="none"/>
<line x1="298.3" y1="324" x2="301.7" y2="324" stroke="#4d4d4d" stroke-width="0.6"/>
<rect x="306" y="328.8" width="2" height="1.8" fill="#4d4d4d"/>
<rect x="305.3" y="322" width="3.4" height="3.8" stroke="#4d4d4d" stroke-width="1" fill="none"/>
<line x1="305.3" y1="324" x2="308.7" y2="324" stroke="#4d4d4d" stroke-width="0.6"/>
<rect x="345" y="328.8" width="2" height="1.8" fill="#4d4d4d"/>
<rect x="344.3" y="322" width="3.4" height="3.8" stroke="#4d4d4d" stroke-width="1" fill="none"/>
<line x1="344.3" y1="324" x2="347.7" y2="324" stroke="#4d4d4d" stroke-width="0.6"/>
<rect x="351" y="328.8" width="2" height="1.8" fill="#4d4d4d"/>
<rect x="350.3" y="322" width="3.4" height="3.8" stroke="#4d4d4d" stroke-width="1" fill="none"/>
<line x1="350.3" y1="324" x2="353.7" y2="324" stroke="#4d4d4d" stroke-width="0.6"/>
<rect x="362" y="328.8" width="2" height="1.8" fill="#4d4d4d"/>
<rect x="361.3" y="322" width="3.4" height="3.8" stroke="#4d4d4d" stroke-width="1" fill="none"/>
<line x1="361.3" y1="324" x2="364.7" y2="324" stroke="#4d4d4d" stroke-width="0.6"/>
<rect x="368" y="328.8" width="2" height="1.8" fill="#4d4d4d"/>
<rect x="367.3" y="322" width="3.4" height="3.8" stroke="#4d4d4d" stroke-width="1" fill="none"/>
<line x1="367.3" y1="324" x2="370.7" y2="324" stroke="#4d4d4d" stroke-width="0.6"/>
<path d="M281,329.5 V327.8 H310 V329.5" stroke="#4d4d4d" stroke-width="0.9" fill="none"/>
<path d="M344,329.5 V327.8 H373 V329.5" stroke="#4d4d4d" stroke-width="0.9" fill="none"/>
<circle cx="294.5" cy="330.5" r="1.3" stroke="#4d4d4d" stroke-width="0.7" fill="none"/>
<circle cx="357.5" cy="330.5" r="1.3" stroke="#4d4d4d" stroke-width="0.7" fill="none"/>
<line x1="248.9" y1="351.6" x2="248.9" y2="384" stroke="#4d4d4d" stroke-width="1"/>
<line x1="280.1" y1="351.6" x2="280.1" y2="384" stroke="#4d4d4d" stroke-width="1"/>
<line x1="311.1" y1="351.6" x2="311.1" y2="384" stroke="#4d4d4d" stroke-width="1"/>
<line x1="343.5" y1="351.6" x2="343.5" y2="384" stroke="#4d4d4d" stroke-width="1"/>
<line x1="375.2" y1="351.6" x2="375.2" y2="384" stroke="#4d4d4d" stroke-width="1"/>
<line x1="406.2" y1="351.6" x2="406.2" y2="384" stroke="#4d4d4d" stroke-width="1"/>
<line x1="248.9" y1="381.2" x2="280.1" y2="381.2" stroke="#4d4d4d" stroke-width="1"/>
<polygon points="248.9,380.75 256.7,379.5 256.7,382.9 248.9,381.65" fill="#4d4d4d"/>
<polygon points="280.1,380.75 272.3,379.5 272.3,382.9 280.1,381.65" fill="#4d4d4d"/>
<text x="264.5" y="376.8" font-size="12" text-anchor="middle" fill="#3c3c3c" font-weight="normal" transform=" translate(264.5 376.8) scale(0.92 1) translate(-264.5 -376.8)" stroke="#3c3c3c" stroke-width="0.45">21</text>
<line x1="280.1" y1="381.2" x2="311.1" y2="381.2" stroke="#4d4d4d" stroke-width="1"/>
<polygon points="280.1,380.75 287.9,379.5 287.9,382.9 280.1,381.65" fill="#4d4d4d"/>
<polygon points="311.1,380.75 303.3,379.5 303.3,382.9 311.1,381.65" fill="#4d4d4d"/>
<text x="295.6" y="376.8" font-size="12" text-anchor="middle" fill="#3c3c3c" font-weight="normal" transform=" translate(295.6 376.8) scale(0.92 1) translate(-295.6 -376.8)" stroke="#3c3c3c" stroke-width="0.45">21</text>
<line x1="311.1" y1="381.2" x2="343.5" y2="381.2" stroke="#4d4d4d" stroke-width="1"/>
<polygon points="311.1,380.75 318.9,379.5 318.9,382.9 311.1,381.65" fill="#4d4d4d"/>
<polygon points="343.5,380.75 335.7,379.5 335.7,382.9 343.5,381.65" fill="#4d4d4d"/>
<text x="327.3" y="376.8" font-size="12" text-anchor="middle" fill="#3c3c3c" font-weight="normal" transform=" translate(327.3 376.8) scale(0.92 1) translate(-327.3 -376.8)" stroke="#3c3c3c" stroke-width="0.45">22</text>
<line x1="343.5" y1="381.2" x2="375.2" y2="381.2" stroke="#4d4d4d" stroke-width="1"/>
<polygon points="343.5,380.75 351.3,379.5 351.3,382.9 343.5,381.65" fill="#4d4d4d"/>
<polygon points="375.2,380.75 367.4,379.5 367.4,382.9 375.2,381.65" fill="#4d4d4d"/>
<text x="359.35" y="376.8" font-size="12" text-anchor="middle" fill="#3c3c3c" font-weight="normal" transform=" translate(359.35 376.8) scale(0.92 1) translate(-359.35 -376.8)" stroke="#3c3c3c" stroke-width="0.45">21</text>
<line x1="375.2" y1="381.2" x2="406.2" y2="381.2" stroke="#4d4d4d" stroke-width="1"/>
<polygon points="375.2,380.75 383,379.5 383,382.9 375.2,381.65" fill="#4d4d4d"/>
<polygon points="406.2,380.75 398.4,379.5 398.4,382.9 406.2,381.65" fill="#4d4d4d"/>
<text x="390.7" y="376.8" font-size="12" text-anchor="middle" fill="#3c3c3c" font-weight="normal" transform=" translate(390.7 376.8) scale(0.92 1) translate(-390.7 -376.8)" stroke="#3c3c3c" stroke-width="0.45">21</text>
<line x1="232.8" y1="321.3" x2="232.8" y2="406" stroke="#4d4d4d" stroke-width="1"/>
<line x1="422.6" y1="321.3" x2="422.6" y2="406" stroke="#4d4d4d" stroke-width="1"/>
<line x1="232.8" y1="404" x2="422.6" y2="404" stroke="#4d4d4d" stroke-width="1"/>
<polygon points="232.8,403.55 240.6,402.3 240.6,405.7 232.8,404.45" fill="#4d4d4d"/>
<polygon points="422.6,403.55 414.8,402.3 414.8,405.7 422.6,404.45" fill="#4d4d4d"/>
<text x="327.7" y="402.6" font-size="12" text-anchor="middle" fill="#3c3c3c" font-weight="normal" transform=" translate(327.7 402.6) scale(0.92 1) translate(-327.7 -402.6)" stroke="#3c3c3c" stroke-width="0.45">128</text>
<line x1="223.4" y1="245" x2="223.4" y2="428" stroke="#4d4d4d" stroke-width="1"/>
<line x1="431.4" y1="245" x2="431.4" y2="428" stroke="#4d4d4d" stroke-width="1"/>
<line x1="223.4" y1="426.2" x2="431.4" y2="426.2" stroke="#4d4d4d" stroke-width="1"/>
<polygon points="223.4,425.75 231.2,424.5 231.2,427.9 223.4,426.65" fill="#4d4d4d"/>
<polygon points="431.4,425.75 423.6,424.5 423.6,427.9 431.4,426.65" fill="#4d4d4d"/>
<text x="327.4" y="423.8" font-size="12" text-anchor="middle" fill="#3c3c3c" font-weight="normal" transform=" translate(327.4 423.8) scale(0.92 1) translate(-327.4 -423.8)" stroke="#3c3c3c" stroke-width="0.45">140</text>
<g transform="translate(0,0)">
<line x1="258.7" y1="453.9" x2="258.7" y2="471" stroke="#4d4d4d" stroke-width="1"/>
<line x1="258.7" y1="483.9" x2="258.7" y2="501.4" stroke="#4d4d4d" stroke-width="1"/>
<line x1="258.7" y1="514.7" x2="258.7" y2="538.8" stroke="#4d4d4d" stroke-width="1"/>
<rect x="257.7" y="452.9" width="2" height="2" fill="#4d4d4d"/>
<text x="263.7" y="450.5" font-size="8.5" text-anchor="middle" fill="#3c3c3c" font-weight="normal" transform=" translate(263.7 450.5) scale(0.92 1) translate(-263.7 -450.5)" stroke="#3c3c3c" stroke-width="0.6">P3</text>
<text x="261.2" y="546.6" font-size="8.5" text-anchor="middle" fill="#3c3c3c" font-weight="normal" transform=" translate(261.2 546.6) scale(0.92 1) translate(-261.2 -546.6)" stroke="#3c3c3c" stroke-width="0.6">N3</text>
<rect x="244.9" y="465.2" width="2.2" height="2.2" fill="#4d4d4d"/>
<path d="M246,466.3 H253.2 L258.7,471" stroke="#4d4d4d" stroke-width="1" fill="none"/>
<text x="243.8" y="467.8" font-size="8.5" text-anchor="end" fill="#3c3c3c" font-weight="normal" transform=" translate(243.8 467.8) scale(0.92 1) translate(-243.8 -467.8)" stroke="#3c3c3c" stroke-width="0.6">C5</text>
<path d="M258.7,471 L252.6,473.5" stroke="#4d4d4d" stroke-width="1" fill="none"/>
<line x1="252.6" y1="472.9" x2="252.6" y2="481.4" stroke="#4d4d4d" stroke-width="1.1"/>
<line x1="251.3" y1="474.5" x2="251.3" y2="482.7" stroke="#777" stroke-width="1"/>
<path d="M252.6,480.5 L258.7,483.9 V490.8" stroke="#4d4d4d" stroke-width="1" fill="none"/>
<polygon points="258.44,483.75 254.02,483.47 255.87,480.15" fill="#4d4d4d"/>
<rect x="244.9" y="480.6" width="2.2" height="2.2" fill="#4d4d4d"/>
<line x1="246" y1="481.7" x2="251.3" y2="481.7" stroke="#4d4d4d" stroke-width="1"/>
<text x="243.8" y="483.2" font-size="8.5" text-anchor="end" fill="#3c3c3c" font-weight="normal" transform=" translate(243.8 483.2) scale(0.92 1) translate(-243.8 -483.2)" stroke="#3c3c3c" stroke-width="0.6">G5</text>
<rect x="244.9" y="494.5" width="2.2" height="2.2" fill="#4d4d4d"/>
<path d="M246,495.6 H253.2 L258.7,490.8" stroke="#4d4d4d" stroke-width="1" fill="none"/>
<text x="243.8" y="494.9" font-size="8.5" text-anchor="end" fill="#3c3c3c" font-weight="normal" transform=" translate(243.8 494.9) scale(0.92 1) translate(-243.8 -494.9)" stroke="#3c3c3c" stroke-width="0.6">E5</text>
<path d="M258.7,471 H265.3 V490.8 H258.7" stroke="#4d4d4d" stroke-width="1" fill="none"/>
<polygon points="265.3,474.8 262.1,479.8 268.5,479.8" fill="#4d4d4d"/>
<line x1="262.1" y1="474.8" x2="268.5" y2="474.8" stroke="#666" stroke-width="1"/>
<line x1="258.7" y1="495.9" x2="274.2" y2="495.9" stroke="#4d4d4d" stroke-width="1"/>
<rect x="273.4" y="494.8" width="2.2" height="2.2" fill="#4d4d4d"/>
<rect x="257.7" y="470" width="2" height="2" fill="#4d4d4d"/>
<rect x="257.7" y="489.8" width="2" height="2" fill="#4d4d4d"/>
<rect x="257.7" y="494.9" width="2" height="2" fill="#4d4d4d"/>
<path d="M258.7,501.4 L252.6,504" stroke="#4d4d4d" stroke-width="1" fill="none"/>
<line x1="252.6" y1="503.4" x2="252.6" y2="512" stroke="#4d4d4d" stroke-width="1.1"/>
<line x1="251.3" y1="505" x2="251.3" y2="513.5" stroke="#777" stroke-width="1"/>
<path d="M252.6,511.3 L258.7,514.7 V518.8" stroke="#4d4d4d" stroke-width="1" fill="none"/>
<polygon points="258.44,514.55 254.02,514.27 255.87,510.95" fill="#4d4d4d"/>
<rect x="257.7" y="500.4" width="2" height="2" fill="#4d4d4d"/>
<rect x="257.7" y="517.8" width="2" height="2" fill="#4d4d4d"/>
<rect x="244.9" y="511.4" width="2.2" height="2.2" fill="#4d4d4d"/>
<line x1="246" y1="512.5" x2="251.3" y2="512.5" stroke="#4d4d4d" stroke-width="1"/>
<text x="243.8" y="514.3" font-size="8.5" text-anchor="end" fill="#3c3c3c" font-weight="normal" transform=" translate(243.8 514.3) scale(0.92 1) translate(-243.8 -514.3)" stroke="#3c3c3c" stroke-width="0.6">G6</text>
<rect x="244.9" y="521.8" width="2.2" height="2.2" fill="#4d4d4d"/>
<path d="M246,522.9 H253.2 L258.7,518.8" stroke="#4d4d4d" stroke-width="1" fill="none"/>
<text x="243.8" y="525" font-size="8.5" text-anchor="end" fill="#3c3c3c" font-weight="normal" transform=" translate(243.8 525) scale(0.92 1) translate(-243.8 -525)" stroke="#3c3c3c" stroke-width="0.6">E6</text>
<path d="M258.7,501.4 H265.3 V518.8 H258.7" stroke="#4d4d4d" stroke-width="1" fill="none"/>
<polygon points="265.3,508.5 262.1,513.6 268.5,513.6" fill="#4d4d4d"/>
<line x1="262.1" y1="508.5" x2="268.5" y2="508.5" stroke="#666" stroke-width="1"/>
</g>
<g transform="translate(48.9,0)">
<line x1="258.7" y1="453.9" x2="258.7" y2="471" stroke="#4d4d4d" stroke-width="1"/>
<line x1="258.7" y1="483.9" x2="258.7" y2="501.4" stroke="#4d4d4d" stroke-width="1"/>
<line x1="258.7" y1="514.7" x2="258.7" y2="538.8" stroke="#4d4d4d" stroke-width="1"/>
<rect x="257.7" y="452.9" width="2" height="2" fill="#4d4d4d"/>
<text x="263.7" y="450.5" font-size="8.5" text-anchor="middle" fill="#3c3c3c" font-weight="normal" transform=" translate(263.7 450.5) scale(0.92 1) translate(-263.7 -450.5)" stroke="#3c3c3c" stroke-width="0.6">P2</text>
<text x="261.2" y="546.6" font-size="8.5" text-anchor="middle" fill="#3c3c3c" font-weight="normal" transform=" translate(261.2 546.6) scale(0.92 1) translate(-261.2 -546.6)" stroke="#3c3c3c" stroke-width="0.6">N2</text>
<rect x="244.9" y="465.2" width="2.2" height="2.2" fill="#4d4d4d"/>
<path d="M246,466.3 H253.2 L258.7,471" stroke="#4d4d4d" stroke-width="1" fill="none"/>
<text x="243.8" y="467.8" font-size="8.5" text-anchor="end" fill="#3c3c3c" font-weight="normal" transform=" translate(243.8 467.8) scale(0.92 1) translate(-243.8 -467.8)" stroke="#3c3c3c" stroke-width="0.6">C3</text>
<path d="M258.7,471 L252.6,473.5" stroke="#4d4d4d" stroke-width="1" fill="none"/>
<line x1="252.6" y1="472.9" x2="252.6" y2="481.4" stroke="#4d4d4d" stroke-width="1.1"/>
<line x1="251.3" y1="474.5" x2="251.3" y2="482.7" stroke="#777" stroke-width="1"/>
<path d="M252.6,480.5 L258.7,483.9 V490.8" stroke="#4d4d4d" stroke-width="1" fill="none"/>
<polygon points="258.44,483.75 254.02,483.47 255.87,480.15" fill="#4d4d4d"/>
<rect x="244.9" y="480.6" width="2.2" height="2.2" fill="#4d4d4d"/>
<line x1="246" y1="481.7" x2="251.3" y2="481.7" stroke="#4d4d4d" stroke-width="1"/>
<text x="243.8" y="483.2" font-size="8.5" text-anchor="end" fill="#3c3c3c" font-weight="normal" transform=" translate(243.8 483.2) scale(0.92 1) translate(-243.8 -483.2)" stroke="#3c3c3c" stroke-width="0.6">G3</text>
<rect x="244.9" y="494.5" width="2.2" height="2.2" fill="#4d4d4d"/>
<path d="M246,495.6 H253.2 L258.7,490.8" stroke="#4d4d4d" stroke-width="1" fill="none"/>
<text x="243.8" y="494.9" font-size="8.5" text-anchor="end" fill="#3c3c3c" font-weight="normal" transform=" translate(243.8 494.9) scale(0.92 1) translate(-243.8 -494.9)" stroke="#3c3c3c" stroke-width="0.6">E3</text>
<path d="M258.7,471 H265.3 V490.8 H258.7" stroke="#4d4d4d" stroke-width="1" fill="none"/>
<polygon points="265.3,474.8 262.1,479.8 268.5,479.8" fill="#4d4d4d"/>
<line x1="262.1" y1="474.8" x2="268.5" y2="474.8" stroke="#666" stroke-width="1"/>
<line x1="258.7" y1="495.9" x2="274.2" y2="495.9" stroke="#4d4d4d" stroke-width="1"/>
<rect x="273.4" y="494.8" width="2.2" height="2.2" fill="#4d4d4d"/>
<rect x="257.7" y="470" width="2" height="2" fill="#4d4d4d"/>
<rect x="257.7" y="489.8" width="2" height="2" fill="#4d4d4d"/>
<rect x="257.7" y="494.9" width="2" height="2" fill="#4d4d4d"/>
<path d="M258.7,501.4 L252.6,504" stroke="#4d4d4d" stroke-width="1" fill="none"/>
<line x1="252.6" y1="503.4" x2="252.6" y2="512" stroke="#4d4d4d" stroke-width="1.1"/>
<line x1="251.3" y1="505" x2="251.3" y2="513.5" stroke="#777" stroke-width="1"/>
<path d="M252.6,511.3 L258.7,514.7 V518.8" stroke="#4d4d4d" stroke-width="1" fill="none"/>
<polygon points="258.44,514.55 254.02,514.27 255.87,510.95" fill="#4d4d4d"/>
<rect x="257.7" y="500.4" width="2" height="2" fill="#4d4d4d"/>
<rect x="257.7" y="517.8" width="2" height="2" fill="#4d4d4d"/>
<rect x="244.9" y="511.4" width="2.2" height="2.2" fill="#4d4d4d"/>
<line x1="246" y1="512.5" x2="251.3" y2="512.5" stroke="#4d4d4d" stroke-width="1"/>
<text x="243.8" y="514.3" font-size="8.5" text-anchor="end" fill="#3c3c3c" font-weight="normal" transform=" translate(243.8 514.3) scale(0.92 1) translate(-243.8 -514.3)" stroke="#3c3c3c" stroke-width="0.6">G4</text>
<rect x="244.9" y="521.8" width="2.2" height="2.2" fill="#4d4d4d"/>
<path d="M246,522.9 H253.2 L258.7,518.8" stroke="#4d4d4d" stroke-width="1" fill="none"/>
<text x="243.8" y="525" font-size="8.5" text-anchor="end" fill="#3c3c3c" font-weight="normal" transform=" translate(243.8 525) scale(0.92 1) translate(-243.8 -525)" stroke="#3c3c3c" stroke-width="0.6">E4</text>
<path d="M258.7,501.4 H265.3 V518.8 H258.7" stroke="#4d4d4d" stroke-width="1" fill="none"/>
<polygon points="265.3,508.5 262.1,513.6 268.5,513.6" fill="#4d4d4d"/>
<line x1="262.1" y1="508.5" x2="268.5" y2="508.5" stroke="#666" stroke-width="1"/>
</g>
<g transform="translate(96.6,0)">
<line x1="258.7" y1="453.9" x2="258.7" y2="471" stroke="#4d4d4d" stroke-width="1"/>
<line x1="258.7" y1="483.9" x2="258.7" y2="501.4" stroke="#4d4d4d" stroke-width="1"/>
<line x1="258.7" y1="514.7" x2="258.7" y2="538.8" stroke="#4d4d4d" stroke-width="1"/>
<rect x="257.7" y="452.9" width="2" height="2" fill="#4d4d4d"/>
<text x="263.7" y="450.5" font-size="8.5" text-anchor="middle" fill="#3c3c3c" font-weight="normal" transform=" translate(263.7 450.5) scale(0.92 1) translate(-263.7 -450.5)" stroke="#3c3c3c" stroke-width="0.6">P1</text>
<text x="261.2" y="546.6" font-size="8.5" text-anchor="middle" fill="#3c3c3c" font-weight="normal" transform=" translate(261.2 546.6) scale(0.92 1) translate(-261.2 -546.6)" stroke="#3c3c3c" stroke-width="0.6">N1</text>
<rect x="244.9" y="465.2" width="2.2" height="2.2" fill="#4d4d4d"/>
<path d="M246,466.3 H253.2 L258.7,471" stroke="#4d4d4d" stroke-width="1" fill="none"/>
<text x="243.8" y="467.8" font-size="8.5" text-anchor="end" fill="#3c3c3c" font-weight="normal" transform=" translate(243.8 467.8) scale(0.92 1) translate(-243.8 -467.8)" stroke="#3c3c3c" stroke-width="0.6">C1</text>
<path d="M258.7,471 L252.6,473.5" stroke="#4d4d4d" stroke-width="1" fill="none"/>
<line x1="252.6" y1="472.9" x2="252.6" y2="481.4" stroke="#4d4d4d" stroke-width="1.1"/>
<line x1="251.3" y1="474.5" x2="251.3" y2="482.7" stroke="#777" stroke-width="1"/>
<path d="M252.6,480.5 L258.7,483.9 V490.8" stroke="#4d4d4d" stroke-width="1" fill="none"/>
<polygon points="258.44,483.75 254.02,483.47 255.87,480.15" fill="#4d4d4d"/>
<rect x="244.9" y="480.6" width="2.2" height="2.2" fill="#4d4d4d"/>
<line x1="246" y1="481.7" x2="251.3" y2="481.7" stroke="#4d4d4d" stroke-width="1"/>
<text x="243.8" y="483.2" font-size="8.5" text-anchor="end" fill="#3c3c3c" font-weight="normal" transform=" translate(243.8 483.2) scale(0.92 1) translate(-243.8 -483.2)" stroke="#3c3c3c" stroke-width="0.6">G1</text>
<rect x="244.9" y="494.5" width="2.2" height="2.2" fill="#4d4d4d"/>
<path d="M246,495.6 H253.2 L258.7,490.8" stroke="#4d4d4d" stroke-width="1" fill="none"/>
<text x="243.8" y="494.9" font-size="8.5" text-anchor="end" fill="#3c3c3c" font-weight="normal" transform=" translate(243.8 494.9) scale(0.92 1) translate(-243.8 -494.9)" stroke="#3c3c3c" stroke-width="0.6">E1</text>
<path d="M258.7,471 H265.3 V490.8 H258.7" stroke="#4d4d4d" stroke-width="1" fill="none"/>
<polygon points="265.3,474.8 262.1,479.8 268.5,479.8" fill="#4d4d4d"/>
<line x1="262.1" y1="474.8" x2="268.5" y2="474.8" stroke="#666" stroke-width="1"/>
<line x1="258.7" y1="495.9" x2="274.2" y2="495.9" stroke="#4d4d4d" stroke-width="1"/>
<rect x="273.4" y="494.8" width="2.2" height="2.2" fill="#4d4d4d"/>
<rect x="257.7" y="470" width="2" height="2" fill="#4d4d4d"/>
<rect x="257.7" y="489.8" width="2" height="2" fill="#4d4d4d"/>
<rect x="257.7" y="494.9" width="2" height="2" fill="#4d4d4d"/>
<path d="M258.7,501.4 L252.6,504" stroke="#4d4d4d" stroke-width="1" fill="none"/>
<line x1="252.6" y1="503.4" x2="252.6" y2="512" stroke="#4d4d4d" stroke-width="1.1"/>
<line x1="251.3" y1="505" x2="251.3" y2="513.5" stroke="#777" stroke-width="1"/>
<path d="M252.6,511.3 L258.7,514.7 V518.8" stroke="#4d4d4d" stroke-width="1" fill="none"/>
<polygon points="258.44,514.55 254.02,514.27 255.87,510.95" fill="#4d4d4d"/>
<rect x="257.7" y="500.4" width="2" height="2" fill="#4d4d4d"/>
<rect x="257.7" y="517.8" width="2" height="2" fill="#4d4d4d"/>
<rect x="244.9" y="511.4" width="2.2" height="2.2" fill="#4d4d4d"/>
<line x1="246" y1="512.5" x2="251.3" y2="512.5" stroke="#4d4d4d" stroke-width="1"/>
<text x="243.8" y="514.3" font-size="8.5" text-anchor="end" fill="#3c3c3c" font-weight="normal" transform=" translate(243.8 514.3) scale(0.92 1) translate(-243.8 -514.3)" stroke="#3c3c3c" stroke-width="0.6">G2</text>
<rect x="244.9" y="521.8" width="2.2" height="2.2" fill="#4d4d4d"/>
<path d="M246,522.9 H253.2 L258.7,518.8" stroke="#4d4d4d" stroke-width="1" fill="none"/>
<text x="243.8" y="525" font-size="8.5" text-anchor="end" fill="#3c3c3c" font-weight="normal" transform=" translate(243.8 525) scale(0.92 1) translate(-243.8 -525)" stroke="#3c3c3c" stroke-width="0.6">E2</text>
<path d="M258.7,501.4 H265.3 V518.8 H258.7" stroke="#4d4d4d" stroke-width="1" fill="none"/>
<polygon points="265.3,508.5 262.1,513.6 268.5,513.6" fill="#4d4d4d"/>
<line x1="262.1" y1="508.5" x2="268.5" y2="508.5" stroke="#666" stroke-width="1"/>
</g>
<line x1="258.7" y1="458.1" x2="355.3" y2="458.1" stroke="#7a7a7a" stroke-width="1.7"/>
<line x1="258.7" y1="534.8" x2="366" y2="534.8" stroke="#7a7a7a" stroke-width="1.7"/>
<polygon points="367.5,534.35 363.5,533.3 363.5,536.3 367.5,535.25" fill="#4d4d4d"/>
<text x="369.5" y="537.2" font-size="8.5" text-anchor="start" fill="#3c3c3c" font-weight="normal" transform=" translate(369.5 537.2) scale(0.92 1) translate(-369.5 -537.2)" stroke="#3c3c3c" stroke-width="0.6">E22</text>
<text x="276" y="499" font-size="9.5" text-anchor="start" fill="#3c3c3c" font-weight="normal" transform=" translate(276 499) scale(0.92 1) translate(-276 -499)" stroke="#3c3c3c" stroke-width="0.6">3</text>
<text x="321" y="508.5" font-size="9.5" text-anchor="start" fill="#3c3c3c" font-weight="normal" transform=" translate(321 508.5) scale(0.92 1) translate(-321 -508.5)" stroke="#3c3c3c" stroke-width="0.6">2</text>
<text x="373.5" y="499.2" font-size="9.5" text-anchor="start" fill="#3c3c3c" font-weight="normal" transform=" translate(373.5 499.2) scale(0.92 1) translate(-373.5 -499.2)" stroke="#3c3c3c" stroke-width="0.6">1</text>
<rect x="389" y="491.3" width="5.1" height="10.2" stroke="#4d4d4d" stroke-width="1" fill="none"/>
<line x1="389.2" y1="500" x2="394" y2="492.5" stroke="#4d4d4d" stroke-width="0.8"/>
<path d="M391.5,491.3 V485.7 H398.4" stroke="#4d4d4d" stroke-width="1" fill="none"/>
<path d="M391.5,501.5 V506.8 H398.4" stroke="#4d4d4d" stroke-width="1" fill="none"/>
<circle cx="398.4" cy="485.7" r="0.9" stroke="#4d4d4d" stroke-width="0.6" fill="#4d4d4d"/>
<circle cx="398.4" cy="506.8" r="0.9" stroke="#4d4d4d" stroke-width="0.6" fill="#4d4d4d"/>
<text x="400.3" y="487.2" font-size="8.5" text-anchor="start" fill="#3c3c3c" font-weight="normal" transform=" translate(400.3 487.2) scale(0.92 1) translate(-400.3 -487.2)" stroke="#3c3c3c" stroke-width="0.6">T1</text>
<text x="400.3" y="512.6" font-size="8.5" text-anchor="start" fill="#3c3c3c" font-weight="normal" transform=" translate(400.3 512.6) scale(0.92 1) translate(-400.3 -512.6)" stroke="#3c3c3c" stroke-width="0.6">T2</text>
<line x1="608" y1="101.1" x2="706.6" y2="101.1" stroke="#4d4d4d" stroke-width="1"/>
<line x1="608" y1="138" x2="890" y2="138" stroke="#4d4d4d" stroke-width="1"/>
<line x1="612.6" y1="101.1" x2="612.6" y2="138" stroke="#4d4d4d" stroke-width="1"/>
<polygon points="612.15,101.1 610.9,108.9 614.3,108.9 613.05,101.1" fill="#4d4d4d"/>
<polygon points="612.15,138 610.9,130.2 614.3,130.2 613.05,138" fill="#4d4d4d"/>
<text x="610.8" y="119.5" font-size="12" text-anchor="middle" fill="#3c3c3c" font-weight="normal" transform="rotate(-90 610.8 119.5) translate(610.8 119.5) scale(0.92 1) translate(-610.8 -119.5)" stroke="#3c3c3c" stroke-width="0.45">26</text>
<line x1="626" y1="111.1" x2="686" y2="111.1" stroke="#4d4d4d" stroke-width="1"/>
<line x1="629.8" y1="111.1" x2="629.8" y2="138" stroke="#4d4d4d" stroke-width="1"/>
<polygon points="629.35,111.1 628.1,118.9 631.5,118.9 630.25,111.1" fill="#4d4d4d"/>
<polygon points="629.35,138 628.1,130.2 631.5,130.2 630.25,138" fill="#4d4d4d"/>
<text x="624.8" y="124" font-size="12" text-anchor="middle" fill="#3c3c3c" font-weight="normal" transform="rotate(-90 624.8 124) translate(624.8 124) scale(0.92 1) translate(-624.8 -124)" stroke="#3c3c3c" stroke-width="0.45">19</text>
<line x1="640.6" y1="115.4" x2="675.4" y2="115.4" stroke="#4d4d4d" stroke-width="1"/>
<line x1="646.2" y1="115.4" x2="646.2" y2="165.6" stroke="#4d4d4d" stroke-width="1"/>
<polygon points="645.75,115.4 644.5,123.2 647.9,123.2 646.65,115.4" fill="#4d4d4d"/>
<polygon points="645.75,138 644.5,130.2 647.9,130.2 646.65,138" fill="#4d4d4d"/>
<text x="644.3" y="155.8" font-size="12" text-anchor="middle" fill="#3c3c3c" font-weight="normal" transform="rotate(-90 644.3 155.8) translate(644.3 155.8) scale(0.92 1) translate(-644.3 -155.8)" stroke="#3c3c3c" stroke-width="0.45">15.8</text>
<line x1="661.6" y1="130.6" x2="661.6" y2="162.8" stroke="#4d4d4d" stroke-width="1"/>
<polygon points="661.15,138 659.9,130.2 663.3,130.2 662.05,138" fill="#4d4d4d"/>
<polygon points="661.15,146.8 659.9,154.6 663.3,154.6 662.05,146.8" fill="#4d4d4d"/>
<line x1="659.5" y1="146.8" x2="680" y2="146.8" stroke="#4d4d4d" stroke-width="1"/>
<text x="660.3" y="157.2" font-size="12" text-anchor="middle" fill="#3c3c3c" font-weight="normal" transform="rotate(-90 660.3 157.2) translate(660.3 157.2) scale(0.92 1) translate(-660.3 -157.2)" stroke="#3c3c3c" stroke-width="0.45">6</text>
<rect x="666.7" y="115.4" width="8.7" height="22.6" stroke="#4d4d4d" stroke-width="1.1" fill="none"/>
<line x1="668.2" y1="116.5" x2="668.2" y2="134.4" stroke="#4d4d4d" stroke-width="0.8"/>
<rect x="668.5" y="134.4" width="6.9" height="3.6" stroke="#4d4d4d" stroke-width="0.9" fill="none"/>
<rect x="672.4" y="120.6" width="3.4" height="12.5" stroke="#4d4d4d" stroke-width="0.9" fill="none"/>
<line x1="675.4" y1="121" x2="682.8" y2="121" stroke="#4d4d4d" stroke-width="1"/>
<line x1="675.4" y1="133.1" x2="682.8" y2="133.1" stroke="#4d4d4d" stroke-width="0.8"/>
<rect x="682.8" y="121" width="54.1" height="15.6" stroke="#4d4d4d" stroke-width="1.1" fill="none"/>
<rect x="683.3" y="118.8" width="45.1" height="2.2" stroke="#4d4d4d" stroke-width="0.9" fill="none"/>
<line x1="682.8" y1="128.4" x2="736.9" y2="128.4" stroke="#4d4d4d" stroke-width="0.9"/>
<line x1="682.8" y1="129.8" x2="736.9" y2="129.8" stroke="#888" stroke-width="0.7"/>
<line x1="682.8" y1="133.1" x2="736.9" y2="133.1" stroke="#4d4d4d" stroke-width="0.9"/>
<path d="M703.6,128.4 V125.3 H705.8 V126.6 H726.5 V125.3 H728.7 V128.4" stroke="#4d4d4d" stroke-width="0.9" fill="none"/>
<line x1="706.8" y1="127.2" x2="725.3" y2="127.2" stroke="#4d4d4d" stroke-width="1.4"/>
<rect x="750.5" y="121" width="53" height="15.6" stroke="#4d4d4d" stroke-width="1.1" fill="none"/>
<rect x="751" y="118.8" width="44" height="2.2" stroke="#4d4d4d" stroke-width="0.9" fill="none"/>
<line x1="750.5" y1="128.4" x2="803.5" y2="128.4" stroke="#4d4d4d" stroke-width="0.9"/>
<line x1="750.5" y1="129.8" x2="803.5" y2="129.8" stroke="#888" stroke-width="0.7"/>
<line x1="750.5" y1="133.1" x2="803.5" y2="133.1" stroke="#4d4d4d" stroke-width="0.9"/>
<path d="M771.3,128.4 V125.3 H773.5 V126.6 H794.2 V125.3 H796.4 V128.4" stroke="#4d4d4d" stroke-width="0.9" fill="none"/>
<line x1="774.5" y1="127.2" x2="793" y2="127.2" stroke="#4d4d4d" stroke-width="1.4"/>
<rect x="818.5" y="121" width="53" height="15.6" stroke="#4d4d4d" stroke-width="1.1" fill="none"/>
<rect x="819" y="118.8" width="44" height="2.2" stroke="#4d4d4d" stroke-width="0.9" fill="none"/>
<line x1="818.5" y1="128.4" x2="871.5" y2="128.4" stroke="#4d4d4d" stroke-width="0.9"/>
<line x1="818.5" y1="129.8" x2="871.5" y2="129.8" stroke="#888" stroke-width="0.7"/>
<line x1="818.5" y1="133.1" x2="871.5" y2="133.1" stroke="#4d4d4d" stroke-width="0.9"/>
<path d="M839.3,128.4 V125.3 H841.5 V126.6 H862.2 V125.3 H864.4 V128.4" stroke="#4d4d4d" stroke-width="0.9" fill="none"/>
<line x1="842.5" y1="127.2" x2="861" y2="127.2" stroke="#4d4d4d" stroke-width="1.4"/>
<line x1="739.4" y1="121" x2="739.4" y2="133.5" stroke="#4d4d4d" stroke-width="0.8"/>
<line x1="744.9" y1="121" x2="744.9" y2="136" stroke="#4d4d4d" stroke-width="0.8"/>
<line x1="750.5" y1="121" x2="750.5" y2="136.6" stroke="#4d4d4d" stroke-width="0.9"/>
<path d="M736.9,121 V116.2 H745.4 V121" stroke="#4d4d4d" stroke-width="0.9" fill="none"/>
<line x1="736.9" y1="133.1" x2="750.5" y2="133.1" stroke="#888" stroke-width="0.7"/>
<line x1="806" y1="121" x2="806" y2="133.5" stroke="#4d4d4d" stroke-width="0.8"/>
<line x1="811.5" y1="121" x2="811.5" y2="136" stroke="#4d4d4d" stroke-width="0.8"/>
<line x1="818.5" y1="121" x2="818.5" y2="136.6" stroke="#4d4d4d" stroke-width="0.9"/>
<path d="M803.5,121 V116.2 H812 V121" stroke="#4d4d4d" stroke-width="0.9" fill="none"/>
<line x1="803.5" y1="133.1" x2="818.5" y2="133.1" stroke="#888" stroke-width="0.7"/>
<rect x="871.5" y="121" width="7.5" height="12.1" stroke="#4d4d4d" stroke-width="1" fill="none"/>
<rect x="879" y="115.4" width="9" height="22.4" stroke="#4d4d4d" stroke-width="1.1" fill="none"/>
<line x1="881" y1="117" x2="881" y2="134" stroke="#4d4d4d" stroke-width="0.7"/>
<rect x="880" y="132" width="7" height="5" stroke="#4d4d4d" stroke-width="0.8" fill="none"/>
<rect x="701.4" y="101.2" width="6.3" height="5.9" stroke="#4d4d4d" stroke-width="1" fill="none" rx="1"/>
<line x1="701.4" y1="103.2" x2="707.7" y2="103.2" stroke="#4d4d4d" stroke-width="0.7"/>
<rect x="700.1" y="107.1" width="8.7" height="9.1" stroke="#4d4d4d" stroke-width="1" fill="none"/>
<rect x="697.9" y="116.2" width="13" height="2.8" stroke="#4d4d4d" stroke-width="1" fill="none"/>
<rect x="826" y="101.2" width="6.3" height="5.9" stroke="#4d4d4d" stroke-width="1" fill="none" rx="1"/>
<line x1="826" y1="103.2" x2="832.3" y2="103.2" stroke="#4d4d4d" stroke-width="0.7"/>
<rect x="824.7" y="107.1" width="8.7" height="9.1" stroke="#4d4d4d" stroke-width="1" fill="none"/>
<rect x="822.5" y="116.2" width="13" height="2.8" stroke="#4d4d4d" stroke-width="1" fill="none"/>
<path d="M685.35,118.8 V112 Q688,109.8 690.65,112 V118.8 Z" fill="#444" stroke="#444" stroke-width="0.6"/>
<line x1="685.65" y1="114" x2="690.35" y2="114" stroke="#aaa" stroke-width="0.5"/>
<path d="M694.9,118.8 V112 Q696.3,109.8 697.7,112 V118.8 Z" fill="#444" stroke="#444" stroke-width="0.6"/>
<line x1="695.2" y1="114" x2="697.4" y2="114" stroke="#aaa" stroke-width="0.5"/>
<path d="M709.15,118.8 V112 Q710.3,109.8 711.45,112 V118.8 Z" fill="#444" stroke="#444" stroke-width="0.6"/>
<line x1="709.45" y1="114" x2="711.15" y2="114" stroke="#aaa" stroke-width="0.5"/>
<path d="M714.8,118.8 V112 Q716.1,109.8 717.4,112 V118.8 Z" fill="#444" stroke="#444" stroke-width="0.6"/>
<line x1="715.1" y1="114" x2="717.1" y2="114" stroke="#aaa" stroke-width="0.5"/>
<path d="M734.8,118.8 V112 Q736.9,109.8 739,112 V118.8 Z" fill="#444" stroke="#444" stroke-width="0.6"/>
<line x1="735.1" y1="114" x2="738.7" y2="114" stroke="#aaa" stroke-width="0.5"/>
<path d="M751.4,118.8 V112 Q753.5,109.8 755.6,112 V118.8 Z" fill="#444" stroke="#444" stroke-width="0.6"/>
<line x1="751.7" y1="114" x2="755.3" y2="114" stroke="#aaa" stroke-width="0.5"/>
<path d="M760.7,118.8 V112 Q762,109.8 763.3,112 V118.8 Z" fill="#444" stroke="#444" stroke-width="0.6"/>
<line x1="761" y1="114" x2="763" y2="114" stroke="#aaa" stroke-width="0.5"/>
<path d="M775.7,118.8 V112 Q777,109.8 778.3,112 V118.8 Z" fill="#444" stroke="#444" stroke-width="0.6"/>
<line x1="776" y1="114" x2="778" y2="114" stroke="#aaa" stroke-width="0.5"/>
<path d="M781.7,118.8 V112 Q783,109.8 784.3,112 V118.8 Z" fill="#444" stroke="#444" stroke-width="0.6"/>
<line x1="782" y1="114" x2="784" y2="114" stroke="#aaa" stroke-width="0.5"/>
<path d="M798.9,118.8 V112 Q801,109.8 803.1,112 V118.8 Z" fill="#444" stroke="#444" stroke-width="0.6"/>
<line x1="799.2" y1="114" x2="802.8" y2="114" stroke="#aaa" stroke-width="0.5"/>
<path d="M820,118.8 V112 Q822,109.8 824,112 V118.8 Z" fill="#444" stroke="#444" stroke-width="0.6"/>
<line x1="820.3" y1="114" x2="823.7" y2="114" stroke="#aaa" stroke-width="0.5"/>
<path d="M843.2,118.8 V112 Q844.5,109.8 845.8,112 V118.8 Z" fill="#444" stroke="#444" stroke-width="0.6"/>
<line x1="843.5" y1="114" x2="845.5" y2="114" stroke="#aaa" stroke-width="0.5"/>
<path d="M849.2,118.8 V112 Q850.5,109.8 851.8,112 V118.8 Z" fill="#444" stroke="#444" stroke-width="0.6"/>
<line x1="849.5" y1="114" x2="851.5" y2="114" stroke="#aaa" stroke-width="0.5"/>
<path d="M863.9,118.8 V112 Q866,109.8 868.1,112 V118.8 Z" fill="#444" stroke="#444" stroke-width="0.6"/>
<line x1="864.2" y1="114" x2="867.8" y2="114" stroke="#aaa" stroke-width="0.5"/>
<rect x="679.3" y="138.8" width="3.5" height="8" stroke="#4d4d4d" stroke-width="1" fill="none"/>
<rect x="684.5" y="138.8" width="3.5" height="8" stroke="#4d4d4d" stroke-width="1" fill="none"/>
<rect x="689.7" y="138.8" width="3.5" height="8" stroke="#4d4d4d" stroke-width="1" fill="none"/>
<rect x="694.9" y="138.8" width="3.5" height="8" stroke="#4d4d4d" stroke-width="1" fill="none"/>
<rect x="700.1" y="138.8" width="3.5" height="8" stroke="#4d4d4d" stroke-width="1" fill="none"/>
<rect x="705.3" y="138.8" width="3.5" height="8" stroke="#4d4d4d" stroke-width="1" fill="none"/>
<rect x="710.5" y="138.8" width="3.5" height="8" stroke="#4d4d4d" stroke-width="1" fill="none"/>
<rect x="715.7" y="138.8" width="3.5" height="8" stroke="#4d4d4d" stroke-width="1" fill="none"/>
<rect x="720.9" y="138.8" width="3.5" height="8" stroke="#4d4d4d" stroke-width="1" fill="none"/>
<rect x="726.1" y="138.8" width="3.5" height="8" stroke="#4d4d4d" stroke-width="1" fill="none"/>
<rect x="731.3" y="138.8" width="3.5" height="8" stroke="#4d4d4d" stroke-width="1" fill="none"/>
<rect x="736.5" y="138.8" width="3.5" height="8" stroke="#4d4d4d" stroke-width="1" fill="none"/>
<rect x="741.7" y="138.8" width="3.5" height="8" stroke="#4d4d4d" stroke-width="1" fill="none"/>
<rect x="746.9" y="138.8" width="3.5" height="8" stroke="#4d4d4d" stroke-width="1" fill="none"/>
<rect x="752.1" y="138.8" width="3.5" height="8" stroke="#4d4d4d" stroke-width="1" fill="none"/>
<rect x="757.3" y="138.8" width="3.5" height="8" stroke="#4d4d4d" stroke-width="1" fill="none"/>
<rect x="762.5" y="138.8" width="3.5" height="8" stroke="#4d4d4d" stroke-width="1" fill="none"/>
<rect x="767.7" y="138.8" width="3.5" height="8" stroke="#4d4d4d" stroke-width="1" fill="none"/>
<rect x="772.9" y="138.8" width="3.5" height="8" stroke="#4d4d4d" stroke-width="1" fill="none"/>
<rect x="778.1" y="138.8" width="3.5" height="8" stroke="#4d4d4d" stroke-width="1" fill="none"/>
<rect x="783.3" y="138.8" width="3.5" height="8" stroke="#4d4d4d" stroke-width="1" fill="none"/>
<rect x="788.5" y="138.8" width="3.5" height="8" stroke="#4d4d4d" stroke-width="1" fill="none"/>
<rect x="793.7" y="138.8" width="3.5" height="8" stroke="#4d4d4d" stroke-width="1" fill="none"/>
<rect x="798.9" y="138.8" width="3.5" height="8" stroke="#4d4d4d" stroke-width="1" fill="none"/>
<rect x="804.1" y="138.8" width="3.5" height="8" stroke="#4d4d4d" stroke-width="1" fill="none"/>
<rect x="809.3" y="138.8" width="3.5" height="8" stroke="#4d4d4d" stroke-width="1" fill="none"/>
<rect x="814.5" y="138.8" width="3.5" height="8" stroke="#4d4d4d" stroke-width="1" fill="none"/>
<rect x="819.7" y="138.8" width="3.5" height="8" stroke="#4d4d4d" stroke-width="1" fill="none"/>
<rect x="824.9" y="138.8" width="3.5" height="8" stroke="#4d4d4d" stroke-width="1" fill="none"/>
<rect x="830.1" y="138.8" width="3.5" height="8" stroke="#4d4d4d" stroke-width="1" fill="none"/>
<rect x="835.3" y="138.8" width="3.5" height="8" stroke="#4d4d4d" stroke-width="1" fill="none"/>
<rect x="840.5" y="138.8" width="3.5" height="8" stroke="#4d4d4d" stroke-width="1" fill="none"/>
<rect x="845.7" y="138.8" width="3.5" height="8" stroke="#4d4d4d" stroke-width="1" fill="none"/>
<rect x="850.9" y="138.8" width="3.5" height="8" stroke="#4d4d4d" stroke-width="1" fill="none"/>
<rect x="856.1" y="138.8" width="3.5" height="8" stroke="#4d4d4d" stroke-width="1" fill="none"/>
<rect x="861.3" y="138.8" width="3.5" height="8" stroke="#4d4d4d" stroke-width="1" fill="none"/>
<rect x="866.5" y="138.8" width="3.5" height="8" stroke="#4d4d4d" stroke-width="1" fill="none"/>
<rect x="871.7" y="138.8" width="3.5" height="8" stroke="#4d4d4d" stroke-width="1" fill="none"/>
<rect x="702.6" y="140" width="3.5" height="6" stroke="#4d4d4d" stroke-width="0" fill="#777"/>
<rect x="827.6" y="140" width="3.5" height="6" stroke="#4d4d4d" stroke-width="0" fill="#777"/>
<line x1="611.3" y1="209.3" x2="686" y2="209.3" stroke="#4d4d4d" stroke-width="1"/>
<line x1="611.3" y1="389.9" x2="706" y2="389.9" stroke="#4d4d4d" stroke-width="1"/>
<line x1="613.8" y1="209.3" x2="613.8" y2="389.9" stroke="#4d4d4d" stroke-width="1"/>
<polygon points="613.35,209.3 612.1,217.1 615.5,217.1 614.25,209.3" fill="#4d4d4d"/>
<polygon points="613.35,389.9 612.1,382.1 615.5,382.1 614.25,389.9" fill="#4d4d4d"/>
<text x="611.8" y="302.9" font-size="12" text-anchor="middle" fill="#3c3c3c" font-weight="normal" transform="rotate(-90 611.8 302.9) translate(611.8 302.9) scale(0.92 1) translate(-611.8 -302.9)" stroke="#3c3c3c" stroke-width="0.45">126.5</text>
<line x1="635" y1="231.6" x2="684" y2="231.6" stroke="#4d4d4d" stroke-width="1"/>
<line x1="635" y1="370.6" x2="683" y2="370.6" stroke="#4d4d4d" stroke-width="1"/>
<line x1="637.8" y1="231.6" x2="637.8" y2="370.6" stroke="#4d4d4d" stroke-width="1"/>
<polygon points="637.35,231.6 636.1,239.4 639.5,239.4 638.25,231.6" fill="#4d4d4d"/>
<polygon points="637.35,370.6 636.1,362.8 639.5,362.8 638.25,370.6" fill="#4d4d4d"/>
<text x="635.8" y="302.8" font-size="12" text-anchor="middle" fill="#3c3c3c" font-weight="normal" transform="rotate(-90 635.8 302.8) translate(635.8 302.8) scale(0.92 1) translate(-635.8 -302.8)" stroke="#3c3c3c" stroke-width="0.45">97</text>
<line x1="657.7" y1="240.9" x2="675" y2="240.9" stroke="#4d4d4d" stroke-width="1"/>
<line x1="657.7" y1="358" x2="675" y2="358" stroke="#4d4d4d" stroke-width="1"/>
<line x1="660.1" y1="240.9" x2="660.1" y2="358" stroke="#4d4d4d" stroke-width="1"/>
<polygon points="659.65,240.9 658.4,248.7 661.8,248.7 660.55,240.9" fill="#4d4d4d"/>
<polygon points="659.65,358 658.4,350.2 661.8,350.2 660.55,358" fill="#4d4d4d"/>
<text x="658.3" y="302.8" font-size="12" text-anchor="middle" fill="#3c3c3c" font-weight="normal" transform="rotate(-90 658.3 302.8) translate(658.3 302.8) scale(0.92 1) translate(-658.3 -302.8)" stroke="#3c3c3c" stroke-width="0.45">82</text>
<line x1="696.3" y1="195.8" x2="696.3" y2="217.5" stroke="#4d4d4d" stroke-width="1"/>
<line x1="723.4" y1="195.8" x2="723.4" y2="217.5" stroke="#4d4d4d" stroke-width="1"/>
<line x1="762.7" y1="195.8" x2="762.7" y2="217.5" stroke="#4d4d4d" stroke-width="1"/>
<line x1="790.1" y1="195.8" x2="790.1" y2="217.5" stroke="#4d4d4d" stroke-width="1"/>
<line x1="830.7" y1="195.8" x2="830.7" y2="217.5" stroke="#4d4d4d" stroke-width="1"/>
<line x1="857.6" y1="195.8" x2="857.6" y2="217.5" stroke="#4d4d4d" stroke-width="1"/>
<line x1="696.3" y1="198.6" x2="857.6" y2="198.6" stroke="#4d4d4d" stroke-width="1"/>
<polygon points="696.3,198.15 700.3,197.4 700.3,199.8 696.3,199.05" fill="#4d4d4d"/>
<polygon points="723.4,198.15 719.4,197.4 719.4,199.8 723.4,199.05" fill="#4d4d4d"/>
<polygon points="723.4,198.15 727.4,197.4 727.4,199.8 723.4,199.05" fill="#4d4d4d"/>
<polygon points="762.7,198.15 758.7,197.4 758.7,199.8 762.7,199.05" fill="#4d4d4d"/>
<polygon points="762.7,198.15 766.7,197.4 766.7,199.8 762.7,199.05" fill="#4d4d4d"/>
<polygon points="790.1,198.15 786.1,197.4 786.1,199.8 790.1,199.05" fill="#4d4d4d"/>
<polygon points="790.1,198.15 794.1,197.4 794.1,199.8 790.1,199.05" fill="#4d4d4d"/>
<polygon points="830.7,198.15 826.7,197.4 826.7,199.8 830.7,199.05" fill="#4d4d4d"/>
<polygon points="830.7,198.15 834.7,197.4 834.7,199.8 830.7,199.05" fill="#4d4d4d"/>
<polygon points="857.6,198.15 853.6,197.4 853.6,199.8 857.6,199.05" fill="#4d4d4d"/>
<text x="711.5" y="197" font-size="12" text-anchor="middle" fill="#3c3c3c" font-weight="normal" transform=" translate(711.5 197) scale(0.92 1) translate(-711.5 -197)" stroke="#3c3c3c" stroke-width="0.45">19</text>
<text x="744" y="197" font-size="12" text-anchor="middle" fill="#3c3c3c" font-weight="normal" transform=" translate(744 197) scale(0.92 1) translate(-744 -197)" stroke="#3c3c3c" stroke-width="0.45">28</text>
<text x="777.5" y="197" font-size="12" text-anchor="middle" fill="#3c3c3c" font-weight="normal" transform=" translate(777.5 197) scale(0.92 1) translate(-777.5 -197)" stroke="#3c3c3c" stroke-width="0.45">19</text>
<text x="810.5" y="197" font-size="12" text-anchor="middle" fill="#3c3c3c" font-weight="normal" transform=" translate(810.5 197) scale(0.92 1) translate(-810.5 -197)" stroke="#3c3c3c" stroke-width="0.45">28</text>
<text x="843.5" y="197" font-size="12" text-anchor="middle" fill="#3c3c3c" font-weight="normal" transform=" translate(843.5 197) scale(0.92 1) translate(-843.5 -197)" stroke="#3c3c3c" stroke-width="0.45">19</text>
<path d="M686,232.3 V210.8 Q686,208.8 688,208.8 H704.6 Q706.6,208.8 706.6,210.8 V232.3" stroke="#4d4d4d" stroke-width="1" fill="none"/>
<circle cx="696.3" cy="217.5" r="3.9" stroke="#4d4d4d" stroke-width="1" fill="none"/>
<text x="696.8" y="230.9" font-size="8.8" text-anchor="middle" fill="#3c3c3c" font-weight="bold" transform=" translate(696.8 230.9) scale(0.92 1) translate(-696.8 -230.9)">N1</text>
<rect x="683.3" y="226.5" width="2.7" height="5.8" stroke="#4d4d4d" stroke-width="0.8" fill="none"/>
<rect x="706.6" y="226.5" width="2.7" height="5.8" stroke="#4d4d4d" stroke-width="0.8" fill="none"/>
<path d="M713.1,232.3 V210.8 Q713.1,208.8 715.1,208.8 H731.7 Q733.7,208.8 733.7,210.8 V232.3" stroke="#4d4d4d" stroke-width="1" fill="none"/>
<circle cx="723.4" cy="217.5" r="3.9" stroke="#4d4d4d" stroke-width="1" fill="none"/>
<text x="723.9" y="230.9" font-size="8.8" text-anchor="middle" fill="#3c3c3c" font-weight="bold" transform=" translate(723.9 230.9) scale(0.92 1) translate(-723.9 -230.9)">P1</text>
<rect x="710.4" y="226.5" width="2.7" height="5.8" stroke="#4d4d4d" stroke-width="0.8" fill="none"/>
<rect x="733.7" y="226.5" width="2.7" height="5.8" stroke="#4d4d4d" stroke-width="0.8" fill="none"/>
<path d="M752.4,232.3 V210.8 Q752.4,208.8 754.4,208.8 H771 Q773,208.8 773,210.8 V232.3" stroke="#4d4d4d" stroke-width="1" fill="none"/>
<circle cx="762.7" cy="217.5" r="3.9" stroke="#4d4d4d" stroke-width="1" fill="none"/>
<text x="763.2" y="230.9" font-size="8.8" text-anchor="middle" fill="#3c3c3c" font-weight="bold" transform=" translate(763.2 230.9) scale(0.92 1) translate(-763.2 -230.9)">N2</text>
<rect x="749.7" y="226.5" width="2.7" height="5.8" stroke="#4d4d4d" stroke-width="0.8" fill="none"/>
<rect x="773" y="226.5" width="2.7" height="5.8" stroke="#4d4d4d" stroke-width="0.8" fill="none"/>
<path d="M779.8,232.3 V210.8 Q779.8,208.8 781.8,208.8 H798.4 Q800.4,208.8 800.4,210.8 V232.3" stroke="#4d4d4d" stroke-width="1" fill="none"/>
<circle cx="790.1" cy="217.5" r="3.9" stroke="#4d4d4d" stroke-width="1" fill="none"/>
<text x="790.6" y="230.9" font-size="8.8" text-anchor="middle" fill="#3c3c3c" font-weight="bold" transform=" translate(790.6 230.9) scale(0.92 1) translate(-790.6 -230.9)">P2</text>
<rect x="777.1" y="226.5" width="2.7" height="5.8" stroke="#4d4d4d" stroke-width="0.8" fill="none"/>
<rect x="800.4" y="226.5" width="2.7" height="5.8" stroke="#4d4d4d" stroke-width="0.8" fill="none"/>
<path d="M820.4,232.3 V210.8 Q820.4,208.8 822.4,208.8 H839 Q841,208.8 841,210.8 V232.3" stroke="#4d4d4d" stroke-width="1" fill="none"/>
<circle cx="830.7" cy="217.5" r="3.9" stroke="#4d4d4d" stroke-width="1" fill="none"/>
<text x="831.2" y="230.9" font-size="8.8" text-anchor="middle" fill="#3c3c3c" font-weight="bold" transform=" translate(831.2 230.9) scale(0.92 1) translate(-831.2 -230.9)">N3</text>
<rect x="817.7" y="226.5" width="2.7" height="5.8" stroke="#4d4d4d" stroke-width="0.8" fill="none"/>
<rect x="841" y="226.5" width="2.7" height="5.8" stroke="#4d4d4d" stroke-width="0.8" fill="none"/>
<path d="M847.3,232.3 V210.8 Q847.3,208.8 849.3,208.8 H865.9 Q867.9,208.8 867.9,210.8 V232.3" stroke="#4d4d4d" stroke-width="1" fill="none"/>
<circle cx="857.6" cy="217.5" r="3.9" stroke="#4d4d4d" stroke-width="1" fill="none"/>
<text x="858.1" y="230.9" font-size="8.8" text-anchor="middle" fill="#3c3c3c" font-weight="bold" transform=" translate(858.1 230.9) scale(0.92 1) translate(-858.1 -230.9)">P3</text>
<rect x="844.6" y="226.5" width="2.7" height="5.8" stroke="#4d4d4d" stroke-width="0.8" fill="none"/>
<rect x="867.9" y="226.5" width="2.7" height="5.8" stroke="#4d4d4d" stroke-width="0.8" fill="none"/>
<path d="M676,232.3 H878.5 Q886.5,232.3 886.5,240.3 Q886.5,247 880,247 H674.5 Q668.3,247 668.3,240.3 Q668.3,232.3 676,232.3 Z" stroke="#4d4d4d" stroke-width="1" fill="none"/>
<circle cx="675.4" cy="240.6" r="3.4" stroke="#4d4d4d" stroke-width="1" fill="none"/>
<circle cx="742.9" cy="240.6" r="3.4" stroke="#4d4d4d" stroke-width="1" fill="none"/>
<circle cx="811" cy="240.6" r="3.4" stroke="#4d4d4d" stroke-width="1" fill="none"/>
<circle cx="878.8" cy="240.6" r="3.4" stroke="#4d4d4d" stroke-width="1" fill="none"/>
<path d="M735.9,232.3 V240.6 A7,7 0 0 0 749.9,240.6 V232.3" stroke="#4d4d4d" stroke-width="1" fill="none"/>
<path d="M804,232.3 V240.6 A7,7 0 0 0 818,240.6 V232.3" stroke="#4d4d4d" stroke-width="1" fill="none"/>
<path d="M683,232.3 V240.6 A7.6,7.6 0 0 1 675.4,248.2" stroke="#4d4d4d" stroke-width="1" fill="none"/>
<path d="M872,232.3 V240.6 A7,7 0 0 0 879,247.6" stroke="#4d4d4d" stroke-width="1" fill="none"/>
<rect x="683.5" y="234" width="12.9" height="11.3" stroke="#3f3f3f" stroke-width="1.3" fill="none"/>
<path d="M685,235 L694.9,244.3 M685,244.3 L694.9,235" stroke="#3f3f3f" stroke-width="1.8" fill="none"/>
<polygon points="684.3,236.5 687,239.65 684.3,242.8" fill="#3f3f3f"/>
<polygon points="695.6,236.5 692.9,239.65 695.6,242.8" fill="#3f3f3f"/>
<rect x="711.8" y="234" width="21.5" height="11.3" stroke="#3f3f3f" stroke-width="1.3" fill="none"/>
<path d="M713.3,235 L731.8,244.3 M713.3,244.3 L731.8,235" stroke="#3f3f3f" stroke-width="1.8" fill="none"/>
<polygon points="712.6,236.5 715.3,239.65 712.6,242.8" fill="#3f3f3f"/>
<polygon points="732.5,236.5 729.8,239.65 732.5,242.8" fill="#3f3f3f"/>
<rect x="753.3" y="234" width="22.5" height="11.3" stroke="#3f3f3f" stroke-width="1.3" fill="none"/>
<path d="M754.8,235 L774.3,244.3 M754.8,244.3 L774.3,235" stroke="#3f3f3f" stroke-width="1.8" fill="none"/>
<polygon points="754.1,236.5 756.8,239.65 754.1,242.8" fill="#3f3f3f"/>
<polygon points="775,236.5 772.3,239.65 775,242.8" fill="#3f3f3f"/>
<rect x="779.5" y="234" width="22.4" height="11.3" stroke="#3f3f3f" stroke-width="1.3" fill="none"/>
<path d="M781,235 L800.4,244.3 M781,244.3 L800.4,235" stroke="#3f3f3f" stroke-width="1.8" fill="none"/>
<polygon points="780.3,236.5 783,239.65 780.3,242.8" fill="#3f3f3f"/>
<polygon points="801.1,236.5 798.4,239.65 801.1,242.8" fill="#3f3f3f"/>
<rect x="821.5" y="234" width="21.5" height="11.3" stroke="#3f3f3f" stroke-width="1.3" fill="none"/>
<path d="M823,235 L841.5,244.3 M823,244.3 L841.5,235" stroke="#3f3f3f" stroke-width="1.8" fill="none"/>
<polygon points="822.3,236.5 825,239.65 822.3,242.8" fill="#3f3f3f"/>
<polygon points="842.2,236.5 839.5,239.65 842.2,242.8" fill="#3f3f3f"/>
<rect x="846.9" y="234" width="22.1" height="11.3" stroke="#3f3f3f" stroke-width="1.3" fill="none"/>
<path d="M848.4,235 L867.5,244.3 M848.4,244.3 L867.5,235" stroke="#3f3f3f" stroke-width="1.8" fill="none"/>
<polygon points="847.7,236.5 850.4,239.65 847.7,242.8" fill="#3f3f3f"/>
<polygon points="868.2,236.5 865.5,239.65 868.2,242.8" fill="#3f3f3f"/>
<circle cx="704.1" cy="240.6" r="5.5" stroke="#4d4d4d" stroke-width="1.2" fill="none"/>
<circle cx="704.1" cy="240.6" r="3.6" stroke="#4d4d4d" stroke-width="0.6" fill="none"/>
<circle cx="704.1" cy="240.6" r="2.5" stroke="#4d4d4d" stroke-width="0" fill="#3f3f3f"/>
<rect x="692" y="248.5" width="35.8" height="12.6" stroke="#4d4d4d" stroke-width="1.1" fill="none"/>
<line x1="692" y1="255.8" x2="727.8" y2="255.8" stroke="#4d4d4d" stroke-width="1"/>
<rect x="759.4" y="248.5" width="36" height="12.6" stroke="#4d4d4d" stroke-width="1.1" fill="none"/>
<line x1="759.4" y1="255.8" x2="795.4" y2="255.8" stroke="#4d4d4d" stroke-width="1"/>
<rect x="826.5" y="248.5" width="35.8" height="12.6" stroke="#4d4d4d" stroke-width="1.1" fill="none"/>
<line x1="826.5" y1="255.8" x2="862.3" y2="255.8" stroke="#4d4d4d" stroke-width="1"/>
<line x1="700" y1="248.5" x2="700" y2="255.8" stroke="#4d4d4d" stroke-width="1"/>
<line x1="708.5" y1="248.5" x2="708.5" y2="255.8" stroke="#4d4d4d" stroke-width="1"/>
<path d="M677,248.6 H878 M668.5,258 V340 M886.8,258 V340" stroke="#4d4d4d" stroke-width="1" fill="none"/>
<line x1="677" y1="249.2" x2="878" y2="249.2" stroke="#3f3f3f" stroke-width="1.6"/>
<line x1="677" y1="349.6" x2="878" y2="349.6" stroke="#3f3f3f" stroke-width="1.8"/>
<line x1="671" y1="255" x2="671" y2="343.5" stroke="#3f3f3f" stroke-width="3.2"/>
<line x1="884" y1="255" x2="884" y2="343.5" stroke="#3f3f3f" stroke-width="3.2"/>
<line x1="671" y1="256" x2="671" y2="342" stroke="#aaa" stroke-width="0.6"/>
<line x1="884" y1="256" x2="884" y2="342" stroke="#aaa" stroke-width="0.6"/>
<line x1="667.6" y1="248" x2="667.6" y2="350" stroke="#4d4d4d" stroke-width="1"/>
<line x1="887.6" y1="248" x2="887.6" y2="350" stroke="#4d4d4d" stroke-width="1"/>
<rect x="672.6" y="268.7" width="5.9" height="6.4" stroke="#4d4d4d" stroke-width="0" fill="#3f3f3f"/>
<rect x="876.9" y="268.7" width="5.2" height="6.4" stroke="#4d4d4d" stroke-width="0" fill="#3f3f3f"/>
<rect x="672.6" y="323.1" width="5.9" height="6.4" stroke="#4d4d4d" stroke-width="0" fill="#3f3f3f"/>
<rect x="876.9" y="323.1" width="5.2" height="6.4" stroke="#4d4d4d" stroke-width="0" fill="#3f3f3f"/>
<circle cx="671" cy="252.2" r="4.4" stroke="#4d4d4d" stroke-width="0" fill="#3f3f3f"/>
<circle cx="671" cy="252.2" r="1.3" stroke="#4d4d4d" stroke-width="0" fill="#fff"/>
<circle cx="743.1" cy="252.5" r="4.4" stroke="#4d4d4d" stroke-width="0" fill="#3f3f3f"/>
<circle cx="743.1" cy="252.5" r="1.3" stroke="#4d4d4d" stroke-width="0" fill="#fff"/>
<circle cx="811" cy="252.5" r="4.4" stroke="#4d4d4d" stroke-width="0" fill="#3f3f3f"/>
<circle cx="811" cy="252.5" r="1.3" stroke="#4d4d4d" stroke-width="0" fill="#fff"/>
<circle cx="883.2" cy="252.4" r="4.4" stroke="#4d4d4d" stroke-width="0" fill="#3f3f3f"/>
<circle cx="883.2" cy="252.4" r="1.3" stroke="#4d4d4d" stroke-width="0" fill="#fff"/>
<circle cx="671" cy="346.4" r="4.4" stroke="#4d4d4d" stroke-width="0" fill="#3f3f3f"/>
<circle cx="671" cy="346.4" r="1.3" stroke="#4d4d4d" stroke-width="0" fill="#fff"/>
<circle cx="743.4" cy="346.9" r="4.4" stroke="#4d4d4d" stroke-width="0" fill="#3f3f3f"/>
<circle cx="743.4" cy="346.9" r="1.3" stroke="#4d4d4d" stroke-width="0" fill="#fff"/>
<circle cx="811" cy="346.9" r="4.4" stroke="#4d4d4d" stroke-width="0" fill="#3f3f3f"/>
<circle cx="811" cy="346.9" r="1.3" stroke="#4d4d4d" stroke-width="0" fill="#fff"/>
<circle cx="882.9" cy="347.2" r="4.4" stroke="#4d4d4d" stroke-width="0" fill="#3f3f3f"/>
<circle cx="882.9" cy="347.2" r="1.3" stroke="#4d4d4d" stroke-width="0" fill="#fff"/>
<path d="M675,250 Q677,249 679,248.8" stroke="#3f3f3f" stroke-width="1.5" fill="none"/>
<rect x="683.2" y="264.6" width="35.8" height="7" stroke="#3f3f3f" stroke-width="1.8" fill="#5a5a5a" rx="3.5"/>
<line x1="690.7" y1="268.1" x2="698.2" y2="268.1" stroke="#c8c8c8" stroke-width="1.6"/>
<line x1="700.7" y1="268.1" x2="707.7" y2="268.1" stroke="#c8c8c8" stroke-width="1.6"/>
<line x1="688.2" y1="266.5" x2="688.2" y2="269.7" stroke="#bbb" stroke-width="0.7"/>
<line x1="699.4" y1="266.5" x2="699.4" y2="269.7" stroke="#bbb" stroke-width="0.7"/>
<line x1="709.7" y1="266.5" x2="709.7" y2="269.7" stroke="#bbb" stroke-width="0.7"/>
<line x1="714.2" y1="266.5" x2="714.2" y2="269.7" stroke="#bbb" stroke-width="0.7"/>
<text x="686.7" y="277.2" font-size="8.6" text-anchor="middle" fill="#3c3c3c" font-weight="bold" transform=" translate(686.7 277.2) scale(0.88 1) translate(-686.7 -277.2)">C2</text>
<text x="707.2" y="277.2" font-size="8.6" text-anchor="middle" fill="#3c3c3c" font-weight="bold" transform=" translate(707.2 277.2) scale(0.88 1) translate(-707.2 -277.2)">E2</text>
<text x="717.5" y="277.2" font-size="8.6" text-anchor="middle" fill="#3c3c3c" font-weight="bold" transform=" translate(717.5 277.2) scale(0.88 1) translate(-717.5 -277.2)">G2</text>
<rect x="750.5" y="264.6" width="35.8" height="7" stroke="#3f3f3f" stroke-width="1.8" fill="#5a5a5a" rx="3.5"/>
<line x1="758" y1="268.1" x2="765.5" y2="268.1" stroke="#c8c8c8" stroke-width="1.6"/>
<line x1="768" y1="268.1" x2="775" y2="268.1" stroke="#c8c8c8" stroke-width="1.6"/>
<line x1="755.5" y1="266.5" x2="755.5" y2="269.7" stroke="#bbb" stroke-width="0.7"/>
<line x1="766.7" y1="266.5" x2="766.7" y2="269.7" stroke="#bbb" stroke-width="0.7"/>
<line x1="777" y1="266.5" x2="777" y2="269.7" stroke="#bbb" stroke-width="0.7"/>
<line x1="781.5" y1="266.5" x2="781.5" y2="269.7" stroke="#bbb" stroke-width="0.7"/>
<text x="754" y="277.2" font-size="8.6" text-anchor="middle" fill="#3c3c3c" font-weight="bold" transform=" translate(754 277.2) scale(0.88 1) translate(-754 -277.2)">C4</text>
<text x="774.5" y="277.2" font-size="8.6" text-anchor="middle" fill="#3c3c3c" font-weight="bold" transform=" translate(774.5 277.2) scale(0.88 1) translate(-774.5 -277.2)">E4</text>
<text x="784.8" y="277.2" font-size="8.6" text-anchor="middle" fill="#3c3c3c" font-weight="bold" transform=" translate(784.8 277.2) scale(0.88 1) translate(-784.8 -277.2)">G4</text>
<rect x="818.3" y="264.6" width="35.8" height="7" stroke="#3f3f3f" stroke-width="1.8" fill="#5a5a5a" rx="3.5"/>
<line x1="825.8" y1="268.1" x2="833.3" y2="268.1" stroke="#c8c8c8" stroke-width="1.6"/>
<line x1="835.8" y1="268.1" x2="842.8" y2="268.1" stroke="#c8c8c8" stroke-width="1.6"/>
<line x1="823.3" y1="266.5" x2="823.3" y2="269.7" stroke="#bbb" stroke-width="0.7"/>
<line x1="834.5" y1="266.5" x2="834.5" y2="269.7" stroke="#bbb" stroke-width="0.7"/>
<line x1="844.8" y1="266.5" x2="844.8" y2="269.7" stroke="#bbb" stroke-width="0.7"/>
<line x1="849.3" y1="266.5" x2="849.3" y2="269.7" stroke="#bbb" stroke-width="0.7"/>
<text x="821.8" y="277.2" font-size="8.6" text-anchor="middle" fill="#3c3c3c" font-weight="bold" transform=" translate(821.8 277.2) scale(0.88 1) translate(-821.8 -277.2)">C6</text>
<text x="842.3" y="277.2" font-size="8.6" text-anchor="middle" fill="#3c3c3c" font-weight="bold" transform=" translate(842.3 277.2) scale(0.88 1) translate(-842.3 -277.2)">E6</text>
<text x="852.6" y="277.2" font-size="8.6" text-anchor="middle" fill="#3c3c3c" font-weight="bold" transform=" translate(852.6 277.2) scale(0.88 1) translate(-852.6 -277.2)">G6</text>
<rect x="686.1" y="284.4" width="49.1" height="4.5" stroke="#4d4d4d" stroke-width="1.1" fill="none"/>
<rect x="686.1" y="299.6" width="49.1" height="5" stroke="#4d4d4d" stroke-width="1.1" fill="none"/>
<rect x="819.3" y="284.4" width="48.1" height="4.5" stroke="#4d4d4d" stroke-width="1.1" fill="none"/>
<rect x="819.3" y="299.6" width="48.1" height="5" stroke="#4d4d4d" stroke-width="1.1" fill="none"/>
<rect x="746" y="297" width="3.2" height="5.5" fill="#3f3f3f"/>
<rect x="805.3" y="296.8" width="3.6" height="5.8" fill="#3f3f3f"/>
<rect x="735.5" y="312.4" width="4.6" height="30.5" stroke="#3f3f3f" stroke-width="2.2" fill="#666" rx="2.3"/>
<circle cx="737.8" cy="318" r="0.5" stroke="#4d4d4d" stroke-width="0" fill="#bbb"/>
<circle cx="737.8" cy="322" r="0.5" stroke="#4d4d4d" stroke-width="0" fill="#bbb"/>
<circle cx="737.8" cy="326" r="0.5" stroke="#4d4d4d" stroke-width="0" fill="#bbb"/>
<circle cx="737.8" cy="330" r="0.5" stroke="#4d4d4d" stroke-width="0" fill="#bbb"/>
<circle cx="737.8" cy="334" r="0.5" stroke="#4d4d4d" stroke-width="0" fill="#bbb"/>
<text x="733.8" y="317.6" font-size="8.8" text-anchor="end" fill="#3c3c3c" font-weight="bold" transform=" translate(733.8 317.6) scale(0.92 1) translate(-733.8 -317.6)">T1</text>
<text x="733.8" y="327.8" font-size="8.8" text-anchor="end" fill="#3c3c3c" font-weight="bold" transform=" translate(733.8 327.8) scale(0.92 1) translate(-733.8 -327.8)">T2</text>
<text x="733.6" y="345.2" font-size="8.8" text-anchor="end" fill="#3c3c3c" font-weight="bold" transform=" translate(733.6 345.2) scale(0.92 1) translate(-733.6 -345.2)">C1</text>
<circle cx="736" cy="341" r="2.4" stroke="#4d4d4d" stroke-width="0" fill="#3f3f3f"/>
<rect x="803.1" y="312.4" width="4.6" height="30.5" stroke="#3f3f3f" stroke-width="2.2" fill="#666" rx="2.3"/>
<circle cx="805.4" cy="318" r="0.5" stroke="#4d4d4d" stroke-width="0" fill="#bbb"/>
<circle cx="805.4" cy="322" r="0.5" stroke="#4d4d4d" stroke-width="0" fill="#bbb"/>
<circle cx="805.4" cy="326" r="0.5" stroke="#4d4d4d" stroke-width="0" fill="#bbb"/>
<circle cx="805.4" cy="330" r="0.5" stroke="#4d4d4d" stroke-width="0" fill="#bbb"/>
<circle cx="805.4" cy="334" r="0.5" stroke="#4d4d4d" stroke-width="0" fill="#bbb"/>
<text x="801.4" y="317.6" font-size="8.8" text-anchor="end" fill="#3c3c3c" font-weight="bold" transform=" translate(801.4 317.6) scale(0.92 1) translate(-801.4 -317.6)">T3</text>
<text x="801.4" y="327.8" font-size="8.8" text-anchor="end" fill="#3c3c3c" font-weight="bold" transform=" translate(801.4 327.8) scale(0.92 1) translate(-801.4 -327.8)">T4</text>
<text x="801.2" y="345.2" font-size="8.8" text-anchor="end" fill="#3c3c3c" font-weight="bold" transform=" translate(801.2 345.2) scale(0.92 1) translate(-801.2 -345.2)">C3</text>
<circle cx="803.6" cy="341" r="2.4" stroke="#4d4d4d" stroke-width="0" fill="#3f3f3f"/>
<rect x="870" y="312.4" width="4.6" height="30.5" stroke="#3f3f3f" stroke-width="2.2" fill="#666" rx="2.3"/>
<circle cx="872.3" cy="318" r="0.5" stroke="#4d4d4d" stroke-width="0" fill="#bbb"/>
<circle cx="872.3" cy="322" r="0.5" stroke="#4d4d4d" stroke-width="0" fill="#bbb"/>
<circle cx="872.3" cy="326" r="0.5" stroke="#4d4d4d" stroke-width="0" fill="#bbb"/>
<circle cx="872.3" cy="330" r="0.5" stroke="#4d4d4d" stroke-width="0" fill="#bbb"/>
<circle cx="872.3" cy="334" r="0.5" stroke="#4d4d4d" stroke-width="0" fill="#bbb"/>
<text x="868.3" y="317.6" font-size="8.8" text-anchor="end" fill="#3c3c3c" font-weight="bold" transform=" translate(868.3 317.6) scale(0.92 1) translate(-868.3 -317.6)">T5</text>
<text x="868.3" y="327.8" font-size="8.8" text-anchor="end" fill="#3c3c3c" font-weight="bold" transform=" translate(868.3 327.8) scale(0.92 1) translate(-868.3 -327.8)">T6</text>
<text x="868.1" y="345.2" font-size="8.8" text-anchor="end" fill="#3c3c3c" font-weight="bold" transform=" translate(868.1 345.2) scale(0.92 1) translate(-868.1 -345.2)">C5</text>
<circle cx="870.5" cy="341" r="2.4" stroke="#4d4d4d" stroke-width="0" fill="#3f3f3f"/>
<circle cx="689.7" cy="337" r="2.9" stroke="#4d4d4d" stroke-width="0" fill="#3f3f3f"/>
<circle cx="695.5" cy="337" r="2.9" stroke="#4d4d4d" stroke-width="0" fill="#3f3f3f"/>
<circle cx="689.7" cy="337" r="0.8" stroke="#4d4d4d" stroke-width="0" fill="#888"/>
<circle cx="695.5" cy="337" r="0.8" stroke="#4d4d4d" stroke-width="0" fill="#888"/>
<text x="687.2" y="333" font-size="8.6" text-anchor="middle" fill="#3c3c3c" font-weight="bold" transform=" translate(687.2 333) scale(0.86 1) translate(-687.2 -333)">G1</text>
<text x="699.2" y="333" font-size="8.6" text-anchor="middle" fill="#3c3c3c" font-weight="bold" transform=" translate(699.2 333) scale(0.86 1) translate(-699.2 -333)">E1</text>
<circle cx="756.7" cy="337" r="2.9" stroke="#4d4d4d" stroke-width="0" fill="#3f3f3f"/>
<circle cx="762.5" cy="337" r="2.9" stroke="#4d4d4d" stroke-width="0" fill="#3f3f3f"/>
<circle cx="756.7" cy="337" r="0.8" stroke="#4d4d4d" stroke-width="0" fill="#888"/>
<circle cx="762.5" cy="337" r="0.8" stroke="#4d4d4d" stroke-width="0" fill="#888"/>
<text x="754.2" y="333" font-size="8.6" text-anchor="middle" fill="#3c3c3c" font-weight="bold" transform=" translate(754.2 333) scale(0.86 1) translate(-754.2 -333)">G3</text>
<text x="766.2" y="333" font-size="8.6" text-anchor="middle" fill="#3c3c3c" font-weight="bold" transform=" translate(766.2 333) scale(0.86 1) translate(-766.2 -333)">E3</text>
<circle cx="823.6" cy="337" r="2.9" stroke="#4d4d4d" stroke-width="0" fill="#3f3f3f"/>
<circle cx="829.4" cy="337" r="2.9" stroke="#4d4d4d" stroke-width="0" fill="#3f3f3f"/>
<circle cx="823.6" cy="337" r="0.8" stroke="#4d4d4d" stroke-width="0" fill="#888"/>
<circle cx="829.4" cy="337" r="0.8" stroke="#4d4d4d" stroke-width="0" fill="#888"/>
<text x="821.1" y="333" font-size="8.6" text-anchor="middle" fill="#3c3c3c" font-weight="bold" transform=" translate(821.1 333) scale(0.86 1) translate(-821.1 -333)">G5</text>
<text x="833.1" y="333" font-size="8.6" text-anchor="middle" fill="#3c3c3c" font-weight="bold" transform=" translate(833.1 333) scale(0.86 1) translate(-833.1 -333)">E5</text>
<path d="M676,350.2 H878.5 Q886.5,350.2 886.5,358 Q886.5,365.4 878.5,365.4 H676 Q667.6,365.4 667.6,358 Q667.6,350.2 676,350.2 Z" stroke="#4d4d4d" stroke-width="1" fill="none"/>
<circle cx="675.4" cy="357.7" r="3.4" stroke="#4d4d4d" stroke-width="1" fill="none"/>
<circle cx="743.4" cy="357.7" r="3.4" stroke="#4d4d4d" stroke-width="1" fill="none"/>
<circle cx="810.6" cy="357.7" r="3.4" stroke="#4d4d4d" stroke-width="1" fill="none"/>
<circle cx="878.5" cy="357.7" r="3.4" stroke="#4d4d4d" stroke-width="1" fill="none"/>
<path d="M736.4,365.4 V357.7 A7,7 0 0 1 750.4,357.7 V365.4" stroke="#4d4d4d" stroke-width="1" fill="none"/>
<path d="M803.6,365.4 V357.7 A7,7 0 0 1 817.6,357.7 V365.4" stroke="#4d4d4d" stroke-width="1" fill="none"/>
<path d="M683,365.4 V358 A8,8 0 0 0 675,350.2" stroke="#4d4d4d" stroke-width="1" fill="none"/>
<path d="M871,365.4 V358 A7.5,7.5 0 0 1 878.5,350.5" stroke="#4d4d4d" stroke-width="1" fill="none"/>
<rect x="685.1" y="352.5" width="22.5" height="11.8" stroke="#3f3f3f" stroke-width="1.3" fill="none"/>
<path d="M686.6,353.5 L706.1,363.3 M686.6,363.3 L706.1,353.5" stroke="#3f3f3f" stroke-width="1.8" fill="none"/>
<polygon points="685.9,355 688.6,358.4 685.9,361.8" fill="#3f3f3f"/>
<polygon points="706.8,355 704.1,358.4 706.8,361.8" fill="#3f3f3f"/>
<rect x="711.2" y="352.5" width="23" height="11.8" stroke="#3f3f3f" stroke-width="1.3" fill="none"/>
<path d="M712.7,353.5 L732.7,363.3 M712.7,363.3 L732.7,353.5" stroke="#3f3f3f" stroke-width="1.8" fill="none"/>
<polygon points="712,355 714.7,358.4 712,361.8" fill="#3f3f3f"/>
<polygon points="733.4,355 730.7,358.4 733.4,361.8" fill="#3f3f3f"/>
<rect x="752" y="352.5" width="22" height="11.8" stroke="#3f3f3f" stroke-width="1.3" fill="none"/>
<path d="M753.5,353.5 L772.5,363.3 M753.5,363.3 L772.5,353.5" stroke="#3f3f3f" stroke-width="1.8" fill="none"/>
<polygon points="752.8,355 755.5,358.4 752.8,361.8" fill="#3f3f3f"/>
<polygon points="773.2,355 770.5,358.4 773.2,361.8" fill="#3f3f3f"/>
<rect x="778" y="352.5" width="22" height="11.8" stroke="#3f3f3f" stroke-width="1.3" fill="none"/>
<path d="M779.5,353.5 L798.5,363.3 M779.5,363.3 L798.5,353.5" stroke="#3f3f3f" stroke-width="1.8" fill="none"/>
<polygon points="778.8,355 781.5,358.4 778.8,361.8" fill="#3f3f3f"/>
<polygon points="799.2,355 796.5,358.4 799.2,361.8" fill="#3f3f3f"/>
<rect x="840" y="352.5" width="20.8" height="11.8" stroke="#3f3f3f" stroke-width="1" fill="none"/>
<path d="M841.5,353.5 L859.3,363.3 M841.5,363.3 L859.3,353.5" stroke="#3f3f3f" stroke-width="1" fill="none"/>
<rect x="863.7" y="351" width="5.6" height="14" stroke="#3f3f3f" stroke-width="1.6" fill="none"/>
<rect x="865" y="356" width="3" height="4" fill="#3f3f3f"/>
<circle cx="827.8" cy="357.9" r="5.8" stroke="#4d4d4d" stroke-width="1.4" fill="none"/>
<circle cx="827.8" cy="357.9" r="3.8" stroke="#4d4d4d" stroke-width="0.7" fill="none"/>
<circle cx="827.8" cy="357.9" r="2.4" stroke="#4d4d4d" stroke-width="0" fill="#3f3f3f"/>
<path d="M823,351.5 V341 H833.8 V351.5" stroke="#4d4d4d" stroke-width="1.2" fill="none"/>
<line x1="823" y1="345.5" x2="833.8" y2="345.5" stroke="#4d4d4d" stroke-width="0.8"/>
<rect x="682.5" y="365.4" width="53.8" height="5" stroke="#4d4d4d" stroke-width="1.1" fill="none"/>
<rect x="750" y="365.4" width="54" height="5" stroke="#4d4d4d" stroke-width="1.1" fill="none"/>
<rect x="817.5" y="365.4" width="53.5" height="5" stroke="#4d4d4d" stroke-width="1.1" fill="none"/>
<path d="M705.9,365.4 V388 Q705.9,390 707.9,390 H724.5 Q726.5,390 726.5,388 V365.4" stroke="#4d4d4d" stroke-width="1" fill="#fff"/>
<circle cx="716.2" cy="381.5" r="3.9" stroke="#4d4d4d" stroke-width="1" fill="none"/>
<text x="716.5" y="375" font-size="8.8" text-anchor="middle" fill="#3c3c3c" font-weight="bold" transform=" translate(716.5 375) scale(0.92 1) translate(-716.5 -375)">1</text>
<line x1="716.2" y1="381.5" x2="716.2" y2="413.5" stroke="#4d4d4d" stroke-width="1"/>
<path d="M773.4,365.4 V388 Q773.4,390 775.4,390 H792 Q794,390 794,388 V365.4" stroke="#4d4d4d" stroke-width="1" fill="#fff"/>
<circle cx="783.7" cy="381.5" r="3.9" stroke="#4d4d4d" stroke-width="1" fill="none"/>
<text x="784" y="375" font-size="8.8" text-anchor="middle" fill="#3c3c3c" font-weight="bold" transform=" translate(784 375) scale(0.92 1) translate(-784 -375)">2</text>
<line x1="783.7" y1="381.5" x2="783.7" y2="413.5" stroke="#4d4d4d" stroke-width="1"/>
<path d="M840.4,365.4 V388 Q840.4,390 842.4,390 H859 Q861,390 861,388 V365.4" stroke="#4d4d4d" stroke-width="1" fill="#fff"/>
<circle cx="850.7" cy="381.5" r="3.9" stroke="#4d4d4d" stroke-width="1" fill="none"/>
<text x="851" y="375" font-size="8.8" text-anchor="middle" fill="#3c3c3c" font-weight="bold" transform=" translate(851 375) scale(0.92 1) translate(-851 -375)">3</text>
<line x1="850.7" y1="381.5" x2="850.7" y2="413.5" stroke="#4d4d4d" stroke-width="1"/>
<line x1="716.2" y1="411.2" x2="783.7" y2="411.2" stroke="#4d4d4d" stroke-width="1"/>
<polygon points="716.2,410.75 724,409.5 724,412.9 716.2,411.65" fill="#4d4d4d"/>
<polygon points="783.7,410.75 775.9,409.5 775.9,412.9 783.7,411.65" fill="#4d4d4d"/>
<text x="749.9" y="409.8" font-size="12" text-anchor="middle" fill="#3c3c3c" font-weight="normal" transform=" translate(749.9 409.8) scale(0.92 1) translate(-749.9 -409.8)" stroke="#3c3c3c" stroke-width="0.45">47</text>
<line x1="783.7" y1="411.2" x2="850.7" y2="411.2" stroke="#4d4d4d" stroke-width="1"/>
<polygon points="783.7,410.75 791.5,409.5 791.5,412.9 783.7,411.65" fill="#4d4d4d"/>
<polygon points="850.7,410.75 842.9,409.5 842.9,412.9 850.7,411.65" fill="#4d4d4d"/>
<text x="817" y="409.8" font-size="12" text-anchor="middle" fill="#3c3c3c" font-weight="normal" transform=" translate(817 409.8) scale(0.92 1) translate(-817 -409.8)" stroke="#3c3c3c" stroke-width="0.45">47</text>
<line x1="667.2" y1="358" x2="667.2" y2="434.5" stroke="#4d4d4d" stroke-width="1"/>
<line x1="886.3" y1="358" x2="886.3" y2="434.5" stroke="#4d4d4d" stroke-width="1"/>
<line x1="667.2" y1="432.2" x2="886.3" y2="432.2" stroke="#4d4d4d" stroke-width="1"/>
<polygon points="667.2,431.75 675,430.5 675,433.9 667.2,432.65" fill="#4d4d4d"/>
<polygon points="886.3,431.75 878.5,430.5 878.5,433.9 886.3,432.65" fill="#4d4d4d"/>
<text x="782.6" y="431" font-size="12" text-anchor="middle" fill="#3c3c3c" font-weight="normal" transform=" translate(782.6 431) scale(0.92 1) translate(-782.6 -431)" stroke="#3c3c3c" stroke-width="0.45">154.5</text>
<line x1="685.8" y1="466.4" x2="685.8" y2="475.3" stroke="#4d4d4d" stroke-width="1"/>
<line x1="685.8" y1="493.7" x2="685.8" y2="517.4" stroke="#4d4d4d" stroke-width="1"/>
<line x1="685.8" y1="535.8" x2="685.8" y2="553" stroke="#4d4d4d" stroke-width="1"/>
<rect x="684.8" y="465.4" width="2" height="2" fill="#4d4d4d"/>
<text x="684.7" y="459.2" font-size="9" text-anchor="middle" fill="#3c3c3c" font-weight="normal" transform=" translate(684.7 459.2) scale(0.92 1) translate(-684.7 -459.2)" stroke="#3c3c3c" stroke-width="0.6">P3</text>
<text x="685.3" y="560.8" font-size="9" text-anchor="middle" fill="#3c3c3c" font-weight="normal" transform=" translate(685.3 560.8) scale(0.92 1) translate(-685.3 -560.8)" stroke="#3c3c3c" stroke-width="0.6">N3</text>
<rect x="666.7" y="468.4" width="2.4" height="2.4" fill="#4d4d4d"/>
<path d="M667.9,469.6 H678.7 L685.8,475.3" stroke="#4d4d4d" stroke-width="1" fill="none"/>
<text x="664.9" y="472.8" font-size="9" text-anchor="end" fill="#3c3c3c" font-weight="normal" transform=" translate(664.9 472.8) scale(0.92 1) translate(-664.9 -472.8)" stroke="#3c3c3c" stroke-width="0.6">C5</text>
<path d="M685.8,475.3 L676.5,479.5" stroke="#4d4d4d" stroke-width="1" fill="none"/>
<line x1="676.5" y1="478.9" x2="676.5" y2="492.3" stroke="#4d4d4d" stroke-width="1.1"/>
<line x1="674.8" y1="479.5" x2="674.8" y2="490.2" stroke="#777" stroke-width="1"/>
<path d="M676.5,488.4 L685.8,493.7 V503.3" stroke="#4d4d4d" stroke-width="1" fill="none"/>
<polygon points="685.54,493.55 681.12,493.22 683,489.92" fill="#4d4d4d"/>
<rect x="666.7" y="489" width="2.4" height="2.4" fill="#4d4d4d"/>
<line x1="667.9" y1="490.2" x2="674.8" y2="490.2" stroke="#4d4d4d" stroke-width="1"/>
<text x="664.9" y="493.5" font-size="9" text-anchor="end" fill="#3c3c3c" font-weight="normal" transform=" translate(664.9 493.5) scale(0.92 1) translate(-664.9 -493.5)" stroke="#3c3c3c" stroke-width="0.6">G5</text>
<rect x="666.7" y="502.1" width="2.4" height="2.4" fill="#4d4d4d"/>
<line x1="667.9" y1="503.3" x2="685.8" y2="503.3" stroke="#4d4d4d" stroke-width="1"/>
<text x="664.9" y="506.3" font-size="9" text-anchor="end" fill="#3c3c3c" font-weight="normal" transform=" translate(664.9 506.3) scale(0.92 1) translate(-664.9 -506.3)" stroke="#3c3c3c" stroke-width="0.6">E5</text>
<path d="M685.8,475.3 H694.6 V503.3 H685.8" stroke="#4d4d4d" stroke-width="1" fill="none"/>
<polygon points="694.6,480.6 690.6,487.7 698.6,487.7" fill="#4d4d4d"/>
<line x1="690.6" y1="480.6" x2="698.6" y2="480.6" stroke="#666" stroke-width="1"/>
<rect x="684.6" y="474.1" width="2.4" height="2.4" fill="#4d4d4d"/>
<rect x="684.6" y="502.1" width="2.4" height="2.4" fill="#4d4d4d"/>
<rect x="684.6" y="506.7" width="2.4" height="2.4" fill="#4d4d4d"/>
<rect x="684.6" y="512.2" width="2.4" height="2.4" fill="#4d4d4d"/>
<rect x="684.6" y="516.2" width="2.4" height="2.4" fill="#4d4d4d"/>
<rect x="684.6" y="540.3" width="2.4" height="2.4" fill="#4d4d4d"/>
<rect x="666.7" y="512.2" width="2.4" height="2.4" fill="#4d4d4d"/>
<line x1="667.9" y1="513.4" x2="685.8" y2="513.4" stroke="#4d4d4d" stroke-width="1"/>
<text x="664.9" y="516.6" font-size="9" text-anchor="end" fill="#3c3c3c" font-weight="normal" transform=" translate(664.9 516.6) scale(0.92 1) translate(-664.9 -516.6)" stroke="#3c3c3c" stroke-width="0.6">C6</text>
<path d="M685.8,517.4 L676.5,521.6" stroke="#4d4d4d" stroke-width="1" fill="none"/>
<line x1="676.5" y1="521" x2="676.5" y2="534.4" stroke="#4d4d4d" stroke-width="1.1"/>
<line x1="674.8" y1="521.6" x2="674.8" y2="532.3" stroke="#777" stroke-width="1"/>
<path d="M676.5,530.5 L685.8,535.8 V541.5" stroke="#4d4d4d" stroke-width="1" fill="none"/>
<polygon points="685.54,535.65 681.12,535.32 683,532.02" fill="#4d4d4d"/>
<rect x="666.7" y="530.7" width="2.4" height="2.4" fill="#4d4d4d"/>
<line x1="667.9" y1="531.9" x2="674.8" y2="531.9" stroke="#4d4d4d" stroke-width="1"/>
<text x="664.9" y="535.2" font-size="9" text-anchor="end" fill="#3c3c3c" font-weight="normal" transform=" translate(664.9 535.2) scale(0.92 1) translate(-664.9 -535.2)" stroke="#3c3c3c" stroke-width="0.6">G6</text>
<rect x="666.7" y="546.8" width="2.4" height="2.4" fill="#4d4d4d"/>
<path d="M667.9,548 H678.2 L685.8,541.5" stroke="#4d4d4d" stroke-width="1" fill="none"/>
<text x="664.9" y="551.5" font-size="9" text-anchor="end" fill="#3c3c3c" font-weight="normal" transform=" translate(664.9 551.5) scale(0.92 1) translate(-664.9 -551.5)" stroke="#3c3c3c" stroke-width="0.6">E6</text>
<path d="M685.8,517.4 H694.6 V541.5 H685.8" stroke="#4d4d4d" stroke-width="1" fill="none"/>
<polygon points="694.6,522.7 690.6,529.8 698.6,529.8" fill="#4d4d4d"/>
<line x1="690.6" y1="522.7" x2="698.6" y2="522.7" stroke="#666" stroke-width="1"/>
<line x1="756.9" y1="466.4" x2="756.9" y2="475.3" stroke="#4d4d4d" stroke-width="1"/>
<line x1="756.9" y1="493.7" x2="756.9" y2="517.4" stroke="#4d4d4d" stroke-width="1"/>
<line x1="756.9" y1="535.8" x2="756.9" y2="553" stroke="#4d4d4d" stroke-width="1"/>
<rect x="755.9" y="465.4" width="2" height="2" fill="#4d4d4d"/>
<text x="755.8" y="459.2" font-size="9" text-anchor="middle" fill="#3c3c3c" font-weight="normal" transform=" translate(755.8 459.2) scale(0.92 1) translate(-755.8 -459.2)" stroke="#3c3c3c" stroke-width="0.6">P2</text>
<text x="756.4" y="560.8" font-size="9" text-anchor="middle" fill="#3c3c3c" font-weight="normal" transform=" translate(756.4 560.8) scale(0.92 1) translate(-756.4 -560.8)" stroke="#3c3c3c" stroke-width="0.6">N2</text>
<rect x="737.8" y="468.4" width="2.4" height="2.4" fill="#4d4d4d"/>
<path d="M739,469.6 H749.8 L756.9,475.3" stroke="#4d4d4d" stroke-width="1" fill="none"/>
<text x="736" y="472.8" font-size="9" text-anchor="end" fill="#3c3c3c" font-weight="normal" transform=" translate(736 472.8) scale(0.92 1) translate(-736 -472.8)" stroke="#3c3c3c" stroke-width="0.6">C3</text>
<path d="M756.9,475.3 L747.6,479.5" stroke="#4d4d4d" stroke-width="1" fill="none"/>
<line x1="747.6" y1="478.9" x2="747.6" y2="492.3" stroke="#4d4d4d" stroke-width="1.1"/>
<line x1="745.9" y1="479.5" x2="745.9" y2="490.2" stroke="#777" stroke-width="1"/>
<path d="M747.6,488.4 L756.9,493.7 V503.3" stroke="#4d4d4d" stroke-width="1" fill="none"/>
<polygon points="756.64,493.55 752.22,493.22 754.1,489.92" fill="#4d4d4d"/>
<rect x="737.8" y="489" width="2.4" height="2.4" fill="#4d4d4d"/>
<line x1="739" y1="490.2" x2="745.9" y2="490.2" stroke="#4d4d4d" stroke-width="1"/>
<text x="736" y="493.5" font-size="9" text-anchor="end" fill="#3c3c3c" font-weight="normal" transform=" translate(736 493.5) scale(0.92 1) translate(-736 -493.5)" stroke="#3c3c3c" stroke-width="0.6">G3</text>
<rect x="737.8" y="502.1" width="2.4" height="2.4" fill="#4d4d4d"/>
<line x1="739" y1="503.3" x2="756.9" y2="503.3" stroke="#4d4d4d" stroke-width="1"/>
<text x="736" y="506.3" font-size="9" text-anchor="end" fill="#3c3c3c" font-weight="normal" transform=" translate(736 506.3) scale(0.92 1) translate(-736 -506.3)" stroke="#3c3c3c" stroke-width="0.6">E3</text>
<path d="M756.9,475.3 H765.7 V503.3 H756.9" stroke="#4d4d4d" stroke-width="1" fill="none"/>
<polygon points="765.7,480.6 761.7,487.7 769.7,487.7" fill="#4d4d4d"/>
<line x1="761.7" y1="480.6" x2="769.7" y2="480.6" stroke="#666" stroke-width="1"/>
<rect x="755.7" y="474.1" width="2.4" height="2.4" fill="#4d4d4d"/>
<rect x="755.7" y="502.1" width="2.4" height="2.4" fill="#4d4d4d"/>
<rect x="755.7" y="506.7" width="2.4" height="2.4" fill="#4d4d4d"/>
<rect x="755.7" y="512.2" width="2.4" height="2.4" fill="#4d4d4d"/>
<rect x="755.7" y="516.2" width="2.4" height="2.4" fill="#4d4d4d"/>
<rect x="755.7" y="540.3" width="2.4" height="2.4" fill="#4d4d4d"/>
<rect x="737.8" y="512.2" width="2.4" height="2.4" fill="#4d4d4d"/>
<line x1="739" y1="513.4" x2="756.9" y2="513.4" stroke="#4d4d4d" stroke-width="1"/>
<text x="736" y="516.6" font-size="9" text-anchor="end" fill="#3c3c3c" font-weight="normal" transform=" translate(736 516.6) scale(0.92 1) translate(-736 -516.6)" stroke="#3c3c3c" stroke-width="0.6">C4</text>
<path d="M756.9,517.4 L747.6,521.6" stroke="#4d4d4d" stroke-width="1" fill="none"/>
<line x1="747.6" y1="521" x2="747.6" y2="534.4" stroke="#4d4d4d" stroke-width="1.1"/>
<line x1="745.9" y1="521.6" x2="745.9" y2="532.3" stroke="#777" stroke-width="1"/>
<path d="M747.6,530.5 L756.9,535.8 V541.5" stroke="#4d4d4d" stroke-width="1" fill="none"/>
<polygon points="756.64,535.65 752.22,535.32 754.1,532.02" fill="#4d4d4d"/>
<rect x="737.8" y="530.7" width="2.4" height="2.4" fill="#4d4d4d"/>
<line x1="739" y1="531.9" x2="745.9" y2="531.9" stroke="#4d4d4d" stroke-width="1"/>
<text x="736" y="535.2" font-size="9" text-anchor="end" fill="#3c3c3c" font-weight="normal" transform=" translate(736 535.2) scale(0.92 1) translate(-736 -535.2)" stroke="#3c3c3c" stroke-width="0.6">G4</text>
<rect x="737.8" y="546.8" width="2.4" height="2.4" fill="#4d4d4d"/>
<path d="M739,548 H749.3 L756.9,541.5" stroke="#4d4d4d" stroke-width="1" fill="none"/>
<text x="736" y="551.5" font-size="9" text-anchor="end" fill="#3c3c3c" font-weight="normal" transform=" translate(736 551.5) scale(0.92 1) translate(-736 -551.5)" stroke="#3c3c3c" stroke-width="0.6">E4</text>
<path d="M756.9,517.4 H765.7 V541.5 H756.9" stroke="#4d4d4d" stroke-width="1" fill="none"/>
<polygon points="765.7,522.7 761.7,529.8 769.7,529.8" fill="#4d4d4d"/>
<line x1="761.7" y1="522.7" x2="769.7" y2="522.7" stroke="#666" stroke-width="1"/>
<line x1="821.8" y1="466.4" x2="821.8" y2="475.3" stroke="#4d4d4d" stroke-width="1"/>
<line x1="821.8" y1="493.7" x2="821.8" y2="517.4" stroke="#4d4d4d" stroke-width="1"/>
<line x1="821.8" y1="535.8" x2="821.8" y2="553" stroke="#4d4d4d" stroke-width="1"/>
<rect x="820.8" y="465.4" width="2" height="2" fill="#4d4d4d"/>
<text x="820.7" y="459.2" font-size="9" text-anchor="middle" fill="#3c3c3c" font-weight="normal" transform=" translate(820.7 459.2) scale(0.92 1) translate(-820.7 -459.2)" stroke="#3c3c3c" stroke-width="0.6">P1</text>
<text x="821.3" y="560.8" font-size="9" text-anchor="middle" fill="#3c3c3c" font-weight="normal" transform=" translate(821.3 560.8) scale(0.92 1) translate(-821.3 -560.8)" stroke="#3c3c3c" stroke-width="0.6">N1</text>
<rect x="802.7" y="468.4" width="2.4" height="2.4" fill="#4d4d4d"/>
<path d="M803.9,469.6 H814.7 L821.8,475.3" stroke="#4d4d4d" stroke-width="1" fill="none"/>
<text x="800.9" y="472.8" font-size="9" text-anchor="end" fill="#3c3c3c" font-weight="normal" transform=" translate(800.9 472.8) scale(0.92 1) translate(-800.9 -472.8)" stroke="#3c3c3c" stroke-width="0.6">C1</text>
<path d="M821.8,475.3 L812.5,479.5" stroke="#4d4d4d" stroke-width="1" fill="none"/>
<line x1="812.5" y1="478.9" x2="812.5" y2="492.3" stroke="#4d4d4d" stroke-width="1.1"/>
<line x1="810.8" y1="479.5" x2="810.8" y2="490.2" stroke="#777" stroke-width="1"/>
<path d="M812.5,488.4 L821.8,493.7 V503.3" stroke="#4d4d4d" stroke-width="1" fill="none"/>
<polygon points="821.54,493.55 817.12,493.22 819,489.92" fill="#4d4d4d"/>
<rect x="802.7" y="489" width="2.4" height="2.4" fill="#4d4d4d"/>
<line x1="803.9" y1="490.2" x2="810.8" y2="490.2" stroke="#4d4d4d" stroke-width="1"/>
<text x="800.9" y="493.5" font-size="9" text-anchor="end" fill="#3c3c3c" font-weight="normal" transform=" translate(800.9 493.5) scale(0.92 1) translate(-800.9 -493.5)" stroke="#3c3c3c" stroke-width="0.6">G1</text>
<rect x="802.7" y="502.1" width="2.4" height="2.4" fill="#4d4d4d"/>
<line x1="803.9" y1="503.3" x2="821.8" y2="503.3" stroke="#4d4d4d" stroke-width="1"/>
<text x="800.9" y="506.3" font-size="9" text-anchor="end" fill="#3c3c3c" font-weight="normal" transform=" translate(800.9 506.3) scale(0.92 1) translate(-800.9 -506.3)" stroke="#3c3c3c" stroke-width="0.6">E1</text>
<path d="M821.8,475.3 H830.6 V503.3 H821.8" stroke="#4d4d4d" stroke-width="1" fill="none"/>
<polygon points="830.6,480.6 826.6,487.7 834.6,487.7" fill="#4d4d4d"/>
<line x1="826.6" y1="480.6" x2="834.6" y2="480.6" stroke="#666" stroke-width="1"/>
<rect x="820.6" y="474.1" width="2.4" height="2.4" fill="#4d4d4d"/>
<rect x="820.6" y="502.1" width="2.4" height="2.4" fill="#4d4d4d"/>
<rect x="820.6" y="506.7" width="2.4" height="2.4" fill="#4d4d4d"/>
<rect x="820.6" y="512.2" width="2.4" height="2.4" fill="#4d4d4d"/>
<rect x="820.6" y="516.2" width="2.4" height="2.4" fill="#4d4d4d"/>
<rect x="820.6" y="540.3" width="2.4" height="2.4" fill="#4d4d4d"/>
<rect x="802.7" y="512.2" width="2.4" height="2.4" fill="#4d4d4d"/>
<line x1="803.9" y1="513.4" x2="821.8" y2="513.4" stroke="#4d4d4d" stroke-width="1"/>
<text x="800.9" y="516.6" font-size="9" text-anchor="end" fill="#3c3c3c" font-weight="normal" transform=" translate(800.9 516.6) scale(0.92 1) translate(-800.9 -516.6)" stroke="#3c3c3c" stroke-width="0.6">C2</text>
<path d="M821.8,517.4 L812.5,521.6" stroke="#4d4d4d" stroke-width="1" fill="none"/>
<line x1="812.5" y1="521" x2="812.5" y2="534.4" stroke="#4d4d4d" stroke-width="1.1"/>
<line x1="810.8" y1="521.6" x2="810.8" y2="532.3" stroke="#777" stroke-width="1"/>
<path d="M812.5,530.5 L821.8,535.8 V541.5" stroke="#4d4d4d" stroke-width="1" fill="none"/>
<polygon points="821.54,535.65 817.12,535.32 819,532.02" fill="#4d4d4d"/>
<rect x="802.7" y="530.7" width="2.4" height="2.4" fill="#4d4d4d"/>
<line x1="803.9" y1="531.9" x2="810.8" y2="531.9" stroke="#4d4d4d" stroke-width="1"/>
<text x="800.9" y="535.2" font-size="9" text-anchor="end" fill="#3c3c3c" font-weight="normal" transform=" translate(800.9 535.2) scale(0.92 1) translate(-800.9 -535.2)" stroke="#3c3c3c" stroke-width="0.6">G2</text>
<rect x="802.7" y="546.8" width="2.4" height="2.4" fill="#4d4d4d"/>
<path d="M803.9,548 H814.2 L821.8,541.5" stroke="#4d4d4d" stroke-width="1" fill="none"/>
<text x="800.9" y="551.5" font-size="9" text-anchor="end" fill="#3c3c3c" font-weight="normal" transform=" translate(800.9 551.5) scale(0.92 1) translate(-800.9 -551.5)" stroke="#3c3c3c" stroke-width="0.6">E2</text>
<path d="M821.8,517.4 H830.6 V541.5 H821.8" stroke="#4d4d4d" stroke-width="1" fill="none"/>
<polygon points="830.6,522.7 826.6,529.8 834.6,529.8" fill="#4d4d4d"/>
<line x1="826.6" y1="522.7" x2="834.6" y2="522.7" stroke="#666" stroke-width="1"/>
<line x1="685.8" y1="508.4" x2="707.6" y2="508.4" stroke="#4d4d4d" stroke-width="1"/>
<circle cx="707.6" cy="508.4" r="1.1" stroke="#4d4d4d" stroke-width="0" fill="#4d4d4d"/>
<text x="709" y="512" font-size="9.5" text-anchor="start" fill="#3c3c3c" font-weight="normal" transform=" translate(709 512) scale(0.92 1) translate(-709 -512)" stroke="#3c3c3c" stroke-width="0.6">3</text>
<line x1="756.9" y1="508.4" x2="777.9" y2="508.4" stroke="#4d4d4d" stroke-width="1"/>
<circle cx="777.9" cy="508.4" r="1.1" stroke="#4d4d4d" stroke-width="0" fill="#4d4d4d"/>
<text x="779.5" y="512" font-size="9.5" text-anchor="start" fill="#3c3c3c" font-weight="normal" transform=" translate(779.5 512) scale(0.92 1) translate(-779.5 -512)" stroke="#3c3c3c" stroke-width="0.6">2</text>
<line x1="821.8" y1="508.4" x2="843.2" y2="508.4" stroke="#4d4d4d" stroke-width="1"/>
<circle cx="843.2" cy="508.4" r="1.1" stroke="#4d4d4d" stroke-width="0" fill="#4d4d4d"/>
<text x="844.8" y="512" font-size="9.5" text-anchor="start" fill="#3c3c3c" font-weight="normal" transform=" translate(844.8 512) scale(0.92 1) translate(-844.8 -512)" stroke="#3c3c3c" stroke-width="0.6">1</text>
<rect x="868.4" y="470.6" width="4.4" height="10.2" stroke="#4d4d4d" stroke-width="1" fill="none"/>
<line x1="868.6" y1="479.2" x2="872.6" y2="472.2" stroke="#4d4d4d" stroke-width="0.8"/>
<path d="M870.6,470.6 V464.7 H881.2" stroke="#4d4d4d" stroke-width="1" fill="none"/>
<path d="M870.6,480.8 V486.2 H881.2" stroke="#4d4d4d" stroke-width="1" fill="none"/>
<circle cx="881.2" cy="464.7" r="1" stroke="#4d4d4d" stroke-width="0" fill="#4d4d4d"/>
<circle cx="881.2" cy="486.2" r="1" stroke="#4d4d4d" stroke-width="0" fill="#4d4d4d"/>
<text x="886.5" y="467" font-size="8.8" text-anchor="start" fill="#3c3c3c" font-weight="normal" transform=" translate(886.5 467) scale(0.92 1) translate(-886.5 -467)" stroke="#3c3c3c" stroke-width="0.6">T1</text>
<text x="887.5" y="489" font-size="8.8" text-anchor="start" fill="#3c3c3c" font-weight="normal" transform=" translate(887.5 489) scale(0.92 1) translate(-887.5 -489)" stroke="#3c3c3c" stroke-width="0.6">T2</text>
<text x="859.8" y="479.5" font-size="8.8" text-anchor="start" fill="#3c3c3c" font-weight="normal" transform=" translate(859.8 479.5) scale(0.92 1) translate(-859.8 -479.5)" stroke="#3c3c3c" stroke-width="0.5">Tl</text>
<rect x="868.4" y="505.6" width="4.4" height="10.2" stroke="#4d4d4d" stroke-width="1" fill="none"/>
<line x1="868.6" y1="514.2" x2="872.6" y2="507.2" stroke="#4d4d4d" stroke-width="0.8"/>
<path d="M870.6,505.6 V499.7 H881.2" stroke="#4d4d4d" stroke-width="1" fill="none"/>
<path d="M870.6,515.8 V521.2 H881.2" stroke="#4d4d4d" stroke-width="1" fill="none"/>
<circle cx="881.2" cy="499.7" r="1" stroke="#4d4d4d" stroke-width="0" fill="#4d4d4d"/>
<circle cx="881.2" cy="521.2" r="1" stroke="#4d4d4d" stroke-width="0" fill="#4d4d4d"/>
<text x="886.5" y="502" font-size="8.8" text-anchor="start" fill="#3c3c3c" font-weight="normal" transform=" translate(886.5 502) scale(0.92 1) translate(-886.5 -502)" stroke="#3c3c3c" stroke-width="0.6">T3</text>
<text x="887.5" y="524" font-size="8.8" text-anchor="start" fill="#3c3c3c" font-weight="normal" transform=" translate(887.5 524) scale(0.92 1) translate(-887.5 -524)" stroke="#3c3c3c" stroke-width="0.6">T4</text>
<text x="859.8" y="514.5" font-size="8.8" text-anchor="start" fill="#3c3c3c" font-weight="normal" transform=" translate(859.8 514.5) scale(0.92 1) translate(-859.8 -514.5)" stroke="#3c3c3c" stroke-width="0.5">Tl</text>
<rect x="868.4" y="541.9" width="4.4" height="10.2" stroke="#4d4d4d" stroke-width="1" fill="none"/>
<line x1="868.6" y1="550.5" x2="872.6" y2="543.5" stroke="#4d4d4d" stroke-width="0.8"/>
<path d="M870.6,541.9 V536 H881.2" stroke="#4d4d4d" stroke-width="1" fill="none"/>
<path d="M870.6,552.1 V557.5 H881.2" stroke="#4d4d4d" stroke-width="1" fill="none"/>
<circle cx="881.2" cy="536" r="1" stroke="#4d4d4d" stroke-width="0" fill="#4d4d4d"/>
<circle cx="881.2" cy="557.5" r="1" stroke="#4d4d4d" stroke-width="0" fill="#4d4d4d"/>
<text x="886.5" y="538.3" font-size="8.8" text-anchor="start" fill="#3c3c3c" font-weight="normal" transform=" translate(886.5 538.3) scale(0.92 1) translate(-886.5 -538.3)" stroke="#3c3c3c" stroke-width="0.6">T5</text>
<text x="887.5" y="560.3" font-size="8.8" text-anchor="start" fill="#3c3c3c" font-weight="normal" transform=" translate(887.5 560.3) scale(0.92 1) translate(-887.5 -560.3)" stroke="#3c3c3c" stroke-width="0.6">T6</text>
<text x="859.8" y="550.8" font-size="8.8" text-anchor="start" fill="#3c3c3c" font-weight="normal" transform=" translate(859.8 550.8) scale(0.92 1) translate(-859.8 -550.8)" stroke="#3c3c3c" stroke-width="0.5">Tl</text>
</svg>
</body></html>
